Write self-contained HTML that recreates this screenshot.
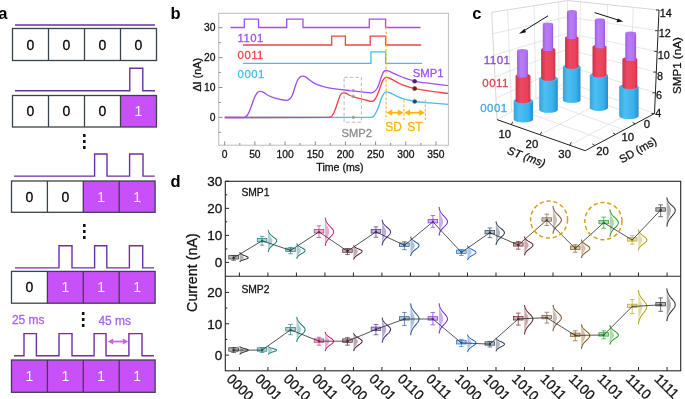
<!DOCTYPE html>
<html><head><meta charset="utf-8"><style>html,body{margin:0;padding:0;background:#fff;overflow:hidden}svg{display:block;will-change:transform}</style></head>
<body><svg width="685" height="399" viewBox="0 0 685 399">
<rect width="685" height="399" fill="#fff"/>
<text x="-1.8" y="18.6" font-size="16.5" font-weight="bold" font-family="Liberation Sans, sans-serif" fill="#000">a</text>
<line x1="15" y1="25" x2="155" y2="25" stroke="#6e2ea8" stroke-width="1.4"/>
<rect x="12.5" y="28.5" width="144" height="32" fill="none" stroke="#3a424a" stroke-width="1.3"/><line x1="48.5" y1="28.5" x2="48.5" y2="60.5" stroke="#3a424a" stroke-width="1.3"/><line x1="84.5" y1="28.5" x2="84.5" y2="60.5" stroke="#3a424a" stroke-width="1.3"/><line x1="120.5" y1="28.5" x2="120.5" y2="60.5" stroke="#3a424a" stroke-width="1.3"/><text x="30.5" y="49.5" font-size="14" font-family="Liberation Sans, sans-serif" fill="#000" text-anchor="middle" stroke="#000" stroke-width="0.28">0</text><text x="66.5" y="49.5" font-size="14" font-family="Liberation Sans, sans-serif" fill="#000" text-anchor="middle" stroke="#000" stroke-width="0.28">0</text><text x="102.5" y="49.5" font-size="14" font-family="Liberation Sans, sans-serif" fill="#000" text-anchor="middle" stroke="#000" stroke-width="0.28">0</text><text x="138.5" y="49.5" font-size="14" font-family="Liberation Sans, sans-serif" fill="#000" text-anchor="middle" stroke="#000" stroke-width="0.28">0</text>
<path d="M15,90.8 L129.8,90.8 L129.8,68.3 L142.8,68.3 L142.8,90.8 L155,90.8" fill="none" stroke="#6e2ea8" stroke-width="1.4"/>
<rect x="120.5" y="95.5" width="36" height="31.5" fill="#c850f8"/><rect x="12.5" y="95.5" width="144" height="31.5" fill="none" stroke="#3a424a" stroke-width="1.3"/><line x1="48.5" y1="95.5" x2="48.5" y2="127.0" stroke="#3a424a" stroke-width="1.3"/><line x1="84.5" y1="95.5" x2="84.5" y2="127.0" stroke="#3a424a" stroke-width="1.3"/><line x1="120.5" y1="95.5" x2="120.5" y2="127.0" stroke="#3a424a" stroke-width="1.3"/><text x="30.5" y="116.25" font-size="14" font-family="Liberation Sans, sans-serif" fill="#000" text-anchor="middle" stroke="#000" stroke-width="0.28">0</text><text x="66.5" y="116.25" font-size="14" font-family="Liberation Sans, sans-serif" fill="#000" text-anchor="middle" stroke="#000" stroke-width="0.28">0</text><text x="102.5" y="116.25" font-size="14" font-family="Liberation Sans, sans-serif" fill="#000" text-anchor="middle" stroke="#000" stroke-width="0.28">0</text><text x="138.5" y="116.25" font-size="14" font-family="Liberation Sans, sans-serif" fill="#fff" text-anchor="middle">1</text>
<rect x="83.0" y="134.0" width="2.6" height="3" fill="#111"/><rect x="83.0" y="140.0" width="2.6" height="3" fill="#111"/><rect x="83.0" y="146.0" width="2.6" height="3" fill="#111"/>
<path d="M14,176.1 L94.6,176.1 L94.6,154 L107,154 L107,176.1 L129.6,176.1 L129.6,154 L143,154 L143,176.1 L154.7,176.1" fill="none" stroke="#6e2ea8" stroke-width="1.4"/>
<rect x="83.3" y="181" width="35.9" height="31.3" fill="#c850f8"/><rect x="119.19999999999999" y="181" width="35.9" height="31.3" fill="#c850f8"/><rect x="11.5" y="181" width="143.6" height="31.3" fill="none" stroke="#3a424a" stroke-width="1.3"/><line x1="47.4" y1="181" x2="47.4" y2="212.3" stroke="#3a424a" stroke-width="1.3"/><line x1="83.3" y1="181" x2="83.3" y2="212.3" stroke="#3a424a" stroke-width="1.3"/><line x1="119.19999999999999" y1="181" x2="119.19999999999999" y2="212.3" stroke="#3a424a" stroke-width="1.3"/><text x="29.45" y="201.65" font-size="14" font-family="Liberation Sans, sans-serif" fill="#000" text-anchor="middle" stroke="#000" stroke-width="0.28">0</text><text x="65.35" y="201.65" font-size="14" font-family="Liberation Sans, sans-serif" fill="#000" text-anchor="middle" stroke="#000" stroke-width="0.28">0</text><text x="101.25" y="201.65" font-size="14" font-family="Liberation Sans, sans-serif" fill="#fff" text-anchor="middle">1</text><text x="137.14999999999998" y="201.65" font-size="14" font-family="Liberation Sans, sans-serif" fill="#fff" text-anchor="middle">1</text>
<rect x="83.0" y="224.0" width="2.6" height="3" fill="#111"/><rect x="83.0" y="230.0" width="2.6" height="3" fill="#111"/><rect x="83.0" y="236.0" width="2.6" height="3" fill="#111"/>
<path d="M15,267.9 L59,267.9 L59,245.8 L72,245.8 L72,267.9 L94.6,267.9 L94.6,245.8 L106.8,245.8 L106.8,267.9 L129.4,267.9 L129.4,245.8 L142.7,245.8 L142.7,267.9 L154,267.9" fill="none" stroke="#6e2ea8" stroke-width="1.4"/>
<rect x="47.4" y="271.4" width="35.9" height="31.8" fill="#c850f8"/><rect x="83.3" y="271.4" width="35.9" height="31.8" fill="#c850f8"/><rect x="119.19999999999999" y="271.4" width="35.9" height="31.8" fill="#c850f8"/><rect x="11.5" y="271.4" width="143.6" height="31.8" fill="none" stroke="#3a424a" stroke-width="1.3"/><line x1="47.4" y1="271.4" x2="47.4" y2="303.2" stroke="#3a424a" stroke-width="1.3"/><line x1="83.3" y1="271.4" x2="83.3" y2="303.2" stroke="#3a424a" stroke-width="1.3"/><line x1="119.19999999999999" y1="271.4" x2="119.19999999999999" y2="303.2" stroke="#3a424a" stroke-width="1.3"/><text x="29.45" y="292.29999999999995" font-size="14" font-family="Liberation Sans, sans-serif" fill="#000" text-anchor="middle" stroke="#000" stroke-width="0.28">0</text><text x="65.35" y="292.29999999999995" font-size="14" font-family="Liberation Sans, sans-serif" fill="#fff" text-anchor="middle">1</text><text x="101.25" y="292.29999999999995" font-size="14" font-family="Liberation Sans, sans-serif" fill="#fff" text-anchor="middle">1</text><text x="137.14999999999998" y="292.29999999999995" font-size="14" font-family="Liberation Sans, sans-serif" fill="#fff" text-anchor="middle">1</text>
<rect x="81.9" y="312.0" width="2.6" height="3" fill="#111"/><rect x="81.9" y="318.0" width="2.6" height="3" fill="#111"/><rect x="81.9" y="324.0" width="2.6" height="3" fill="#111"/>
<path d="M14,355.8 L24,355.8 L24,333.6 L36.4,333.6 L36.4,355.8 L59,355.8 L59,333.6 L72,333.6 L72,355.8 L94.1,355.8 L94.1,333.6 L106,333.6 L106,355.8 L128.9,355.8 L128.9,333.6 L142,333.6 L142,355.8 L154,355.8" fill="none" stroke="#6e2ea8" stroke-width="1.4"/>
<rect x="11.5" y="360" width="35.9" height="32.3" fill="#c850f8"/><rect x="47.4" y="360" width="35.9" height="32.3" fill="#c850f8"/><rect x="83.3" y="360" width="35.9" height="32.3" fill="#c850f8"/><rect x="119.19999999999999" y="360" width="35.9" height="32.3" fill="#c850f8"/><rect x="11.5" y="360" width="143.6" height="32.3" fill="none" stroke="#3a424a" stroke-width="1.3"/><line x1="47.4" y1="360" x2="47.4" y2="392.3" stroke="#3a424a" stroke-width="1.3"/><line x1="83.3" y1="360" x2="83.3" y2="392.3" stroke="#3a424a" stroke-width="1.3"/><line x1="119.19999999999999" y1="360" x2="119.19999999999999" y2="392.3" stroke="#3a424a" stroke-width="1.3"/><text x="29.45" y="381.15" font-size="14" font-family="Liberation Sans, sans-serif" fill="#fff" text-anchor="middle">1</text><text x="65.35" y="381.15" font-size="14" font-family="Liberation Sans, sans-serif" fill="#fff" text-anchor="middle">1</text><text x="101.25" y="381.15" font-size="14" font-family="Liberation Sans, sans-serif" fill="#fff" text-anchor="middle">1</text><text x="137.14999999999998" y="381.15" font-size="14" font-family="Liberation Sans, sans-serif" fill="#fff" text-anchor="middle">1</text>
<text x="11.9" y="324.4" font-size="12" font-family="Liberation Sans, sans-serif" fill="#a862ee" stroke="#a862ee" stroke-width="0.28">25 ms</text>
<text x="98.4" y="325.2" font-size="12" font-family="Liberation Sans, sans-serif" fill="#a862ee" stroke="#a862ee" stroke-width="0.28">45 ms</text>
<line x1="110" y1="341.5" x2="126" y2="341.5" stroke="#c462f4" stroke-width="1.7"/>
<path d="M107.8,341.5 L113.2,338.6 L113.2,344.4 Z M128.2,341.5 L122.8,338.6 L122.8,344.4 Z" fill="#c462f4"/>
<text x="170.5" y="18.7" font-size="16.5" font-weight="bold" font-family="Liberation Sans, sans-serif" fill="#000">b</text>
<rect x="218.7" y="13.3" width="229.7" height="131.89999999999998" fill="none" stroke="#bcbcbc" stroke-width="1"/>
<line x1="218.7" y1="117.4" x2="222.5" y2="117.4" stroke="#8e8e8e" stroke-width="1"/>
<text x="215.5" y="121.10000000000001" font-size="10.3" font-family="Liberation Sans, sans-serif" fill="#111" text-anchor="end" stroke="#111" stroke-width="0.28">0</text>
<line x1="218.7" y1="87.5" x2="222.5" y2="87.5" stroke="#8e8e8e" stroke-width="1"/>
<text x="215.5" y="91.2" font-size="10.3" font-family="Liberation Sans, sans-serif" fill="#111" text-anchor="end" stroke="#111" stroke-width="0.28">10</text>
<line x1="218.7" y1="57.6" x2="222.5" y2="57.6" stroke="#8e8e8e" stroke-width="1"/>
<text x="215.5" y="61.300000000000004" font-size="10.3" font-family="Liberation Sans, sans-serif" fill="#111" text-anchor="end" stroke="#111" stroke-width="0.28">20</text>
<line x1="218.7" y1="27.700000000000003" x2="222.5" y2="27.700000000000003" stroke="#8e8e8e" stroke-width="1"/>
<text x="215.5" y="31.400000000000002" font-size="10.3" font-family="Liberation Sans, sans-serif" fill="#111" text-anchor="end" stroke="#111" stroke-width="0.28">30</text>
<line x1="218.7" y1="132.35" x2="220.89999999999998" y2="132.35" stroke="#8e8e8e" stroke-width="1"/>
<line x1="218.7" y1="102.45" x2="220.89999999999998" y2="102.45" stroke="#8e8e8e" stroke-width="1"/>
<line x1="218.7" y1="72.55000000000001" x2="220.89999999999998" y2="72.55000000000001" stroke="#8e8e8e" stroke-width="1"/>
<line x1="218.7" y1="42.650000000000006" x2="220.89999999999998" y2="42.650000000000006" stroke="#8e8e8e" stroke-width="1"/>
<line x1="224.7" y1="145.2" x2="224.7" y2="141.39999999999998" stroke="#8e8e8e" stroke-width="1"/>
<text x="224.7" y="158.3" font-size="10.3" font-family="Liberation Sans, sans-serif" fill="#111" text-anchor="middle" stroke="#111" stroke-width="0.28">0</text>
<line x1="254.88" y1="145.2" x2="254.88" y2="141.39999999999998" stroke="#8e8e8e" stroke-width="1"/>
<text x="254.88" y="158.3" font-size="10.3" font-family="Liberation Sans, sans-serif" fill="#111" text-anchor="middle" stroke="#111" stroke-width="0.28">50</text>
<line x1="285.06" y1="145.2" x2="285.06" y2="141.39999999999998" stroke="#8e8e8e" stroke-width="1"/>
<text x="285.06" y="158.3" font-size="10.3" font-family="Liberation Sans, sans-serif" fill="#111" text-anchor="middle" stroke="#111" stroke-width="0.28">100</text>
<line x1="315.24" y1="145.2" x2="315.24" y2="141.39999999999998" stroke="#8e8e8e" stroke-width="1"/>
<text x="315.24" y="158.3" font-size="10.3" font-family="Liberation Sans, sans-serif" fill="#111" text-anchor="middle" stroke="#111" stroke-width="0.28">150</text>
<line x1="345.41999999999996" y1="145.2" x2="345.41999999999996" y2="141.39999999999998" stroke="#8e8e8e" stroke-width="1"/>
<text x="345.41999999999996" y="158.3" font-size="10.3" font-family="Liberation Sans, sans-serif" fill="#111" text-anchor="middle" stroke="#111" stroke-width="0.28">200</text>
<line x1="375.6" y1="145.2" x2="375.6" y2="141.39999999999998" stroke="#8e8e8e" stroke-width="1"/>
<text x="375.6" y="158.3" font-size="10.3" font-family="Liberation Sans, sans-serif" fill="#111" text-anchor="middle" stroke="#111" stroke-width="0.28">250</text>
<line x1="405.78" y1="145.2" x2="405.78" y2="141.39999999999998" stroke="#8e8e8e" stroke-width="1"/>
<text x="405.78" y="158.3" font-size="10.3" font-family="Liberation Sans, sans-serif" fill="#111" text-anchor="middle" stroke="#111" stroke-width="0.28">300</text>
<line x1="435.96000000000004" y1="145.2" x2="435.96000000000004" y2="141.39999999999998" stroke="#8e8e8e" stroke-width="1"/>
<text x="435.96000000000004" y="158.3" font-size="10.3" font-family="Liberation Sans, sans-serif" fill="#111" text-anchor="middle" stroke="#111" stroke-width="0.28">350</text>
<line x1="239.79" y1="145.2" x2="239.79" y2="143.0" stroke="#8e8e8e" stroke-width="1"/>
<line x1="269.96999999999997" y1="145.2" x2="269.96999999999997" y2="143.0" stroke="#8e8e8e" stroke-width="1"/>
<line x1="300.15" y1="145.2" x2="300.15" y2="143.0" stroke="#8e8e8e" stroke-width="1"/>
<line x1="330.33" y1="145.2" x2="330.33" y2="143.0" stroke="#8e8e8e" stroke-width="1"/>
<line x1="360.51" y1="145.2" x2="360.51" y2="143.0" stroke="#8e8e8e" stroke-width="1"/>
<line x1="390.69" y1="145.2" x2="390.69" y2="143.0" stroke="#8e8e8e" stroke-width="1"/>
<line x1="420.87" y1="145.2" x2="420.87" y2="143.0" stroke="#8e8e8e" stroke-width="1"/>
<text x="340" y="170.6" font-size="10.6" font-family="Liberation Sans, sans-serif" fill="#111" text-anchor="middle" stroke="#111" stroke-width="0.28">Time (ms)</text>
<text transform="translate(201.3,74.8) rotate(-90)" font-size="10.8" font-family="Liberation Sans, sans-serif" fill="#111" text-anchor="middle" stroke="#111" stroke-width="0.28">ΔI (nA)</text>
<path d="M230.5,27.5 L244.3,27.5 L244.3,19.2 L258.5,19.2 L258.5,27.5 L286.7,27.5 L286.7,19.2 L303,19.2 L303,27.5 L369.3,27.5 L369.3,19.2 L385.6,19.2 L385.6,27.5 L420.5,27.5" fill="none" stroke="#a24ef2" stroke-width="1.3"/>
<path d="M242.9,45.0 L331.7,45.0 L331.7,36.1 L345.4,36.1 L345.4,45.0 L370.2,45.0 L370.2,36.1 L385.6,36.1 L385.6,45.0 L421.2,45.0" fill="none" stroke="#ee4444" stroke-width="1.3"/>
<path d="M242.9,63.3 L370.9,63.3 L370.9,51.9 L385.6,51.9 L385.6,63.3 L422,63.3" fill="none" stroke="#46bcf0" stroke-width="1.3"/>
<text x="237.6" y="41.7" font-size="11.4" letter-spacing="0.45" font-family="Liberation Sans, sans-serif" fill="#a24ef2" stroke="#a24ef2" stroke-width="0.28">1101</text>
<text x="237.6" y="58.9" font-size="11.4" letter-spacing="0.45" font-family="Liberation Sans, sans-serif" fill="#ee4444" stroke="#ee4444" stroke-width="0.28">0011</text>
<text x="237.6" y="78.2" font-size="11.4" letter-spacing="0.45" font-family="Liberation Sans, sans-serif" fill="#46bcf0" stroke="#46bcf0" stroke-width="0.28">0001</text>
<path d="M224.80,117.50 C273.53,117.47 322.31,117.69 371.00,117.40 C371.87,117.39 372.91,117.18 373.50,116.60 C374.58,115.54 375.27,113.92 376.00,112.50 C377.04,110.49 377.99,108.42 378.80,106.30 C379.83,103.62 380.43,100.76 381.50,98.10 C382.17,96.43 382.93,94.68 384.00,93.30 C384.53,92.61 385.48,92.03 386.30,91.90 C387.14,91.76 388.13,92.21 389.00,92.50 C390.20,92.91 391.35,93.46 392.50,94.00 C394.82,95.09 397.04,96.42 399.40,97.40 C401.64,98.32 403.96,99.08 406.30,99.70 C409.16,100.45 412.07,101.10 415.00,101.50 C419.97,102.17 425.00,102.46 430.00,102.90 C436.00,103.43 442.00,103.90 448.00,104.40" fill="none" stroke="#46bcf0" stroke-width="1.35"/>
<path d="M224.80,117.50 C259.20,117.47 293.62,117.63 328.00,117.40 C329.02,117.39 330.22,117.35 331.00,116.80 C332.05,116.05 332.86,114.71 333.50,113.50 C334.56,111.48 335.31,109.26 336.10,107.10 C337.45,103.40 338.38,99.49 339.90,95.90 C340.28,94.99 341.06,94.22 341.80,93.60 C342.29,93.19 342.98,92.81 343.60,92.80 C344.54,92.78 345.59,93.13 346.50,93.50 C347.72,94.00 348.78,94.88 350.00,95.40 C351.95,96.24 353.96,96.99 356.00,97.60 C358.63,98.39 361.33,98.93 364.00,99.60 C366.23,100.16 368.46,101.07 370.70,101.30 C371.73,101.40 373.00,101.18 373.80,100.60 C374.83,99.85 375.57,98.49 376.20,97.30 C377.23,95.36 378.00,93.26 378.80,91.20 C379.77,88.69 380.50,86.09 381.50,83.60 C382.16,81.96 382.76,80.14 383.80,78.80 C384.36,78.08 385.42,77.54 386.30,77.40 C387.15,77.27 388.14,77.69 389.00,78.00 C390.20,78.43 391.37,79.00 392.50,79.60 C394.83,80.83 397.02,82.36 399.40,83.50 C401.62,84.56 403.96,85.43 406.30,86.20 C409.16,87.13 412.06,87.98 415.00,88.60 C419.96,89.65 424.98,90.47 430.00,91.20 C435.98,92.07 442.00,92.67 448.00,93.40" fill="none" stroke="#ee4444" stroke-width="1.35"/>
<path d="M224.80,117.50 C229.87,117.50 234.93,117.55 240.00,117.50 C241.50,117.48 243.14,117.75 244.50,117.30 C245.64,116.92 246.81,116.01 247.50,115.00 C248.81,113.08 249.61,110.71 250.50,108.50 C251.94,104.91 252.99,101.15 254.50,97.60 C255.23,95.89 256.02,94.03 257.20,92.70 C257.85,91.97 259.03,91.46 260.00,91.40 C261.13,91.33 262.44,91.77 263.50,92.30 C265.17,93.14 266.49,94.72 268.20,95.50 C271.29,96.92 274.60,98.04 277.90,98.90 C280.86,99.67 284.05,100.42 287.00,100.40 C288.09,100.39 289.25,99.59 290.00,98.80 C291.11,97.63 291.95,96.03 292.60,94.50 C293.62,92.10 294.15,89.48 295.00,87.00 C295.69,84.98 296.26,82.89 297.20,81.00 C297.92,79.56 298.84,78.01 300.00,77.00 C300.67,76.41 301.80,76.17 302.70,76.20 C303.80,76.24 305.01,76.65 306.00,77.20 C307.45,78.01 308.63,79.32 310.00,80.30 C311.63,81.46 313.22,82.72 315.00,83.60 C317.22,84.69 319.62,85.49 322.00,86.20 C324.65,86.99 327.36,87.68 330.10,88.10 C337.60,89.25 345.16,90.01 352.70,90.90 C357.80,91.51 362.90,92.08 368.00,92.60 C369.16,92.72 370.38,92.99 371.50,92.80 C372.55,92.62 373.66,92.15 374.50,91.50 C375.50,90.72 376.34,89.61 377.00,88.50 C377.84,87.11 378.42,85.54 379.00,84.00 C379.92,81.54 380.58,78.96 381.50,76.50 C382.08,74.96 382.58,73.28 383.50,72.00 C384.01,71.28 384.96,70.62 385.80,70.50 C386.80,70.35 387.97,70.85 389.00,71.20 C390.21,71.61 391.34,72.26 392.50,72.80 C394.80,73.86 397.06,75.02 399.40,76.00 C401.66,76.95 403.97,77.81 406.30,78.60 C409.17,79.58 412.03,80.70 415.00,81.30 C419.97,82.30 425.06,82.74 430.10,83.40 C436.06,84.18 442.03,84.87 448.00,85.60" fill="none" stroke="#a24ef2" stroke-width="1.35"/>
<rect x="344.1" y="77.3" width="17.3" height="44.9" fill="none" stroke="#b0b0b0" stroke-width="0.9" stroke-dasharray="3.4,2.3"/>
<circle cx="352.7" cy="90.6" r="2.2" fill="#ffffff" fill-opacity="0.55"/><circle cx="353.2" cy="90.6" r="1.8" fill="#303048" fill-opacity="0.35"/>
<circle cx="352.7" cy="96.4" r="2.2" fill="#ffffff" fill-opacity="0.55"/><circle cx="353.2" cy="96.4" r="1.8" fill="#303048" fill-opacity="0.35"/>
<circle cx="352.7" cy="117.4" r="2.2" fill="#ffffff" fill-opacity="0.55"/><circle cx="353.2" cy="117.4" r="1.8" fill="#303048" fill-opacity="0.35"/>
<circle cx="414.4" cy="81.3" r="2.3" fill="#a24ef2"/><circle cx="414.9" cy="81.3" r="2.0" fill="#1a1a2a" fill-opacity="0.72"/>
<circle cx="414.4" cy="88.6" r="2.3" fill="#ee4444"/><circle cx="414.9" cy="88.6" r="2.0" fill="#1a1a2a" fill-opacity="0.72"/>
<circle cx="414.4" cy="101.5" r="2.3" fill="#46bcf0"/><circle cx="414.9" cy="101.5" r="2.0" fill="#1a1a2a" fill-opacity="0.72"/>
<text x="341.5" y="137.2" font-size="11.2" font-family="Liberation Sans, sans-serif" fill="#8a8a8a" stroke="#8a8a8a" stroke-width="0.28">SMP2</text>
<text x="412.8" y="77.2" font-size="11.3" font-family="Liberation Sans, sans-serif" fill="#a24ef2" stroke="#a24ef2" stroke-width="0.28">SMP1</text>
<line x1="386.1" y1="27" x2="386.1" y2="120" stroke="#fdb50c" stroke-width="1.1" stroke-dasharray="2.6,1.8"/>
<line x1="403.9" y1="100" x2="403.9" y2="120" stroke="#fdb50c" stroke-width="1.1" stroke-dasharray="2.6,1.8"/>
<line x1="425.3" y1="100" x2="425.3" y2="120" stroke="#fdb50c" stroke-width="1.1" stroke-dasharray="2.6,1.8"/>
<line x1="390" y1="112.7" x2="400" y2="112.7" stroke="#fdb50c" stroke-width="1.7"/>
<line x1="408" y1="112.7" x2="421.3" y2="112.7" stroke="#fdb50c" stroke-width="1.7"/>
<path d="M386.4,112.7 L392.2,109.6 L392.2,115.8Z M403.6,112.7 L397.8,109.6 L397.8,115.8Z M404.2,112.7 L410,109.6 L410,115.8Z M425,112.7 L419.2,109.6 L419.2,115.8Z" fill="#fdb50c"/>
<text x="385.2" y="130.9" font-size="12" font-family="Liberation Sans, sans-serif" fill="#fdb50c" stroke="#fdb50c" stroke-width="0.28">SD</text>
<text x="407.2" y="130.9" font-size="12" font-family="Liberation Sans, sans-serif" fill="#fdb50c" stroke="#fdb50c" stroke-width="0.28">ST</text>
<text x="472.3" y="18.6" font-size="16.5" font-weight="bold" font-family="Liberation Sans, sans-serif" fill="#000">c</text>
<line x1="497.00" y1="119.60" x2="491.70" y2="12.30" stroke="#cccccc" stroke-width="0.8"/>
<line x1="491.70" y1="12.30" x2="567.60" y2="0.50" stroke="#cccccc" stroke-width="0.8"/>
<line x1="567.60" y1="0.50" x2="659.00" y2="10.00" stroke="#cccccc" stroke-width="0.8"/>
<line x1="567.00" y1="82.00" x2="567.60" y2="0.50" stroke="#e0e0e0" stroke-width="0.8"/>
<line x1="497.00" y1="119.60" x2="567.00" y2="82.00" stroke="#e0e0e0" stroke-width="0.8"/>
<line x1="567.00" y1="82.00" x2="654.50" y2="113.50" stroke="#e0e0e0" stroke-width="0.8"/>
<line x1="511.70" y1="111.70" x2="507.64" y2="9.82" stroke="#e0e0e0" stroke-width="0.8"/>
<line x1="535.99" y1="98.66" x2="533.98" y2="5.73" stroke="#e0e0e0" stroke-width="0.8"/>
<line x1="558.88" y1="86.36" x2="558.80" y2="1.87" stroke="#e0e0e0" stroke-width="0.8"/>
<line x1="495.94" y1="98.14" x2="567.12" y2="65.70" stroke="#e0e0e0" stroke-width="0.8"/>
<line x1="567.12" y1="65.70" x2="655.40" y2="92.80" stroke="#e0e0e0" stroke-width="0.8"/>
<line x1="494.88" y1="76.68" x2="567.24" y2="49.40" stroke="#e0e0e0" stroke-width="0.8"/>
<line x1="567.24" y1="49.40" x2="656.30" y2="72.10" stroke="#e0e0e0" stroke-width="0.8"/>
<line x1="493.82" y1="55.22" x2="567.36" y2="33.10" stroke="#e0e0e0" stroke-width="0.8"/>
<line x1="567.36" y1="33.10" x2="657.20" y2="51.40" stroke="#e0e0e0" stroke-width="0.8"/>
<line x1="492.76" y1="33.76" x2="567.48" y2="16.80" stroke="#e0e0e0" stroke-width="0.8"/>
<line x1="567.48" y1="16.80" x2="658.10" y2="30.70" stroke="#e0e0e0" stroke-width="0.8"/>
<line x1="579.25" y1="86.41" x2="580.40" y2="1.83" stroke="#e0e0e0" stroke-width="0.8"/>
<line x1="605.33" y1="95.80" x2="607.63" y2="4.66" stroke="#e0e0e0" stroke-width="0.8"/>
<line x1="629.83" y1="104.62" x2="633.23" y2="7.32" stroke="#e0e0e0" stroke-width="0.8"/>
<line x1="511.29" y1="124.64" x2="581.17" y2="87.10" stroke="#e0e0e0" stroke-width="0.8"/>
<line x1="540.13" y1="134.81" x2="609.79" y2="97.40" stroke="#e0e0e0" stroke-width="0.8"/>
<line x1="569.76" y1="145.26" x2="639.19" y2="107.99" stroke="#e0e0e0" stroke-width="0.8"/>
<line x1="644.80" y1="118.71" x2="557.20" y2="87.26" stroke="#e0e0e0" stroke-width="0.8"/>
<line x1="624.15" y1="129.79" x2="536.34" y2="98.47" stroke="#e0e0e0" stroke-width="0.8"/>
<line x1="604.74" y1="140.21" x2="516.74" y2="109.00" stroke="#e0e0e0" stroke-width="0.8"/>
<line x1="497.00" y1="119.60" x2="585.20" y2="150.70" stroke="#222" stroke-width="1.0"/>
<line x1="585.20" y1="150.70" x2="654.50" y2="113.50" stroke="#222" stroke-width="1.0"/>
<line x1="654.50" y1="113.50" x2="659.00" y2="10.00" stroke="#222" stroke-width="1.0"/>
<line x1="511.29" y1="124.64" x2="512.79" y2="121.64" stroke="#222" stroke-width="0.9"/>
<line x1="540.13" y1="134.81" x2="541.63" y2="131.81" stroke="#222" stroke-width="0.9"/>
<line x1="569.76" y1="145.26" x2="571.26" y2="142.26" stroke="#222" stroke-width="0.9"/>
<line x1="635.10" y1="123.92" x2="632.60" y2="122.42" stroke="#222" stroke-width="0.9"/>
<line x1="615.55" y1="134.41" x2="613.05" y2="132.91" stroke="#222" stroke-width="0.9"/>
<line x1="594.90" y1="145.49" x2="592.40" y2="143.99" stroke="#222" stroke-width="0.9"/>
<line x1="654.50" y1="113.50" x2="651.50" y2="113.50" stroke="#222" stroke-width="0.9"/>
<text x="655.29" y="117.30" font-size="10.8" font-family="Liberation Sans, sans-serif" fill="#111" stroke="#111" stroke-width="0.28">4</text>
<line x1="655.40" y1="92.80" x2="652.40" y2="92.80" stroke="#222" stroke-width="0.9"/>
<text x="656.07" y="99.30" font-size="10.8" font-family="Liberation Sans, sans-serif" fill="#111" stroke="#111" stroke-width="0.28">6</text>
<line x1="656.30" y1="72.10" x2="653.30" y2="72.10" stroke="#222" stroke-width="0.9"/>
<text x="656.93" y="79.50" font-size="10.8" font-family="Liberation Sans, sans-serif" fill="#111" stroke="#111" stroke-width="0.28">8</text>
<line x1="657.20" y1="51.40" x2="654.20" y2="51.40" stroke="#222" stroke-width="0.9"/>
<text x="657.81" y="59.30" font-size="10.8" font-family="Liberation Sans, sans-serif" fill="#111" stroke="#111" stroke-width="0.28">10</text>
<line x1="658.10" y1="30.70" x2="655.10" y2="30.70" stroke="#222" stroke-width="0.9"/>
<text x="658.80" y="36.50" font-size="10.8" font-family="Liberation Sans, sans-serif" fill="#111" stroke="#111" stroke-width="0.28">12</text>
<line x1="659.00" y1="10.00" x2="656.00" y2="10.00" stroke="#222" stroke-width="0.9"/>
<text x="659.65" y="17.00" font-size="10.8" font-family="Liberation Sans, sans-serif" fill="#111" stroke="#111" stroke-width="0.28">14</text>
<text transform="translate(680.8,65.6) rotate(-90)" font-size="11.6" font-family="Liberation Sans, sans-serif" fill="#111" text-anchor="middle" stroke="#111" stroke-width="0.28">SMP1 (nA)</text>
<text x="498.5" y="137.8" font-size="11.4" font-family="Liberation Sans, sans-serif" fill="#111" stroke="#111" stroke-width="0.28">10</text>
<text x="525.6" y="147.5" font-size="11.4" font-family="Liberation Sans, sans-serif" fill="#111" stroke="#111" stroke-width="0.28">20</text>
<text x="558.3" y="157.7" font-size="11.4" font-family="Liberation Sans, sans-serif" fill="#111" stroke="#111" stroke-width="0.28">30</text>
<text x="643.7" y="128.4" font-size="11.4" font-family="Liberation Sans, sans-serif" fill="#111" stroke="#111" stroke-width="0.28">0</text>
<text x="621.4" y="141.4" font-size="11.4" font-family="Liberation Sans, sans-serif" fill="#111" stroke="#111" stroke-width="0.28">10</text>
<text x="596.2" y="154.9" font-size="11.4" font-family="Liberation Sans, sans-serif" fill="#111" stroke="#111" stroke-width="0.28">20</text>
<text transform="translate(506.5,153.6) rotate(20)" font-size="11.2" font-family="Liberation Sans, sans-serif" font-style="italic" fill="#111" stroke="#111" stroke-width="0.28">ST (ms)</text>
<text transform="translate(622,163.6) rotate(-30)" font-size="11.2" font-family="Liberation Sans, sans-serif" fill="#111" stroke="#111" stroke-width="0.28">SD (ms)</text>
<text x="483.8" y="63.8" font-size="11.5" letter-spacing="0.45" font-family="Liberation Sans, sans-serif" fill="#8a48c8" stroke="#8a48c8" stroke-width="0.28">1101</text>
<text x="482.3" y="86.9" font-size="11.5" letter-spacing="0.45" font-family="Liberation Sans, sans-serif" fill="#e04050" stroke="#e04050" stroke-width="0.28">0011</text>
<text x="480.2" y="111.8" font-size="11.5" letter-spacing="0.45" font-family="Liberation Sans, sans-serif" fill="#3aa8e0" stroke="#3aa8e0" stroke-width="0.28">0001</text>
<line x1="548" y1="15.8" x2="522" y2="32" stroke="#111" stroke-width="1"/>
<path d="M519,33.8 L524.5,28.8 L526,32.2 Z" fill="#111"/>
<line x1="594.6" y1="12.6" x2="620" y2="20.6" stroke="#111" stroke-width="1"/>
<path d="M623.2,21.6 L616.5,22.2 L617.8,18.4 Z" fill="#111"/>
<defs>
<linearGradient id="gB" x1="0" x2="1" y1="0" y2="0"><stop offset="0" stop-color="#3aa0dc"/><stop offset="0.3" stop-color="#4cc0f4"/><stop offset="0.75" stop-color="#3ab0ea"/><stop offset="1" stop-color="#2a8cc8"/></linearGradient>
<linearGradient id="gR" x1="0" x2="1" y1="0" y2="0"><stop offset="0" stop-color="#cc344c"/><stop offset="0.35" stop-color="#ee4862"/><stop offset="0.8" stop-color="#e8425a"/><stop offset="1" stop-color="#c8344a"/></linearGradient>
<linearGradient id="gP" x1="0" x2="1" y1="0" y2="0"><stop offset="0" stop-color="#a060e0"/><stop offset="0.35" stop-color="#ba7cf6"/><stop offset="0.8" stop-color="#b072f2"/><stop offset="1" stop-color="#9656d6"/></linearGradient>
</defs>
<path d="M513.6999999999999,101.0 L513.6999999999999,119.4 A9.7,3.1039999999999996 0 0 0 533.1,119.4 L533.1,101.0 Z" fill="url(#gB)"/><ellipse cx="523.4" cy="101.0" rx="9.7" ry="3.1039999999999996" fill="#46b8ee"/>
<path d="M515.5814544303797,76.0 L515.5814544303797,101.0 A7.4205,2.3003549999999997 0 0 0 530.4224544303796,101.0 L530.4224544303796,76.0 Z" fill="url(#gR)"/><ellipse cx="523.0019544303797" cy="76.0" rx="7.4205" ry="2.3003549999999997" fill="#dc3a54"/>
<path d="M517.0291316455696,50.8 L517.0291316455696,76.0 A5.432,1.8468800000000003 0 0 0 527.8931316455696,76.0 L527.8931316455696,50.8 Z" fill="url(#gP)"/><ellipse cx="522.4611316455696" cy="50.8" rx="5.432" ry="1.8468800000000003" fill="#b474f2"/>
<path d="M539.2,78.6 L539.2,109.8 A9.3,2.9760000000000004 0 0 0 557.8,109.8 L557.8,78.6 Z" fill="url(#gB)"/><ellipse cx="548.5" cy="78.6" rx="9.3" ry="2.9760000000000004" fill="#46b8ee"/>
<path d="M541.1070696202531,49.6 L541.1070696202531,78.6 A7.1145000000000005,2.205495 0 0 0 555.3360696202532,78.6 L555.3360696202532,49.6 Z" fill="url(#gR)"/><ellipse cx="548.2215696202531" cy="49.6" rx="7.1145000000000005" ry="2.205495" fill="#dc3a54"/>
<path d="M542.7547721518988,24.2 L542.7547721518988,49.6 A5.208000000000001,1.7707200000000005 0 0 0 553.1707721518987,49.6 L553.1707721518987,24.2 Z" fill="url(#gP)"/><ellipse cx="547.9627721518988" cy="24.2" rx="5.208000000000001" ry="1.7707200000000005" fill="#b474f2"/>
<path d="M562.9000000000001,66.8 L562.9000000000001,100.3 A8.8,2.8160000000000003 0 0 0 580.5,100.3 L580.5,66.8 Z" fill="url(#gB)"/><ellipse cx="571.7" cy="66.8" rx="8.8" ry="2.8160000000000003" fill="#46b8ee"/>
<path d="M565.0625632911393,37.8 L565.0625632911393,66.8 A6.732000000000001,2.08692 0 0 0 578.5265632911393,66.8 L578.5265632911393,37.8 Z" fill="url(#gR)"/><ellipse cx="571.7945632911393" cy="37.8" rx="6.732000000000001" ry="2.08692" fill="#dc3a54"/>
<path d="M566.948424050633,11.8 L566.948424050633,37.8 A4.928000000000001,1.6755200000000003 0 0 0 576.804424050633,37.8 L576.804424050633,11.8 Z" fill="url(#gP)"/><ellipse cx="571.876424050633" cy="11.8" rx="4.928000000000001" ry="1.6755200000000003" fill="#b474f2"/>
<path d="M589.8,75.2 L589.8,108.0 A9.1,2.912 0 0 0 608.0,108.0 L608.0,75.2 Z" fill="url(#gB)"/><ellipse cx="598.9" cy="75.2" rx="9.1" ry="2.912" fill="#46b8ee"/>
<path d="M592.4828139240506,46.8 L592.4828139240506,75.2 A6.9615,2.158065 0 0 0 606.4058139240506,75.2 L606.4058139240506,46.8 Z" fill="url(#gR)"/><ellipse cx="599.4443139240506" cy="46.8" rx="6.9615" ry="2.158065" fill="#dc3a54"/>
<path d="M594.8196101265822,19.9 L594.8196101265822,46.8 A5.096,1.7326400000000002 0 0 0 605.0116101265822,46.8 L605.0116101265822,19.9 Z" fill="url(#gP)"/><ellipse cx="599.9156101265822" cy="19.9" rx="5.096" ry="1.7326400000000002" fill="#b474f2"/>
<path d="M619.1999999999999,86.9 L619.1999999999999,116.0 A9.7,3.1039999999999996 0 0 0 638.6,116.0 L638.6,86.9 Z" fill="url(#gB)"/><ellipse cx="628.9" cy="86.9" rx="9.7" ry="3.1039999999999996" fill="#46b8ee"/>
<path d="M622.4044379746836,59.2 L622.4044379746836,86.9 A7.4205,2.3003549999999997 0 0 0 637.2454379746835,86.9 L637.2454379746835,59.2 Z" fill="url(#gR)"/><ellipse cx="629.8249379746835" cy="59.2" rx="7.4205" ry="2.3003549999999997" fill="#dc3a54"/>
<path d="M625.2733772151898,33.4 L625.2733772151898,59.2 A5.432,1.8468800000000003 0 0 0 636.1373772151899,59.2 L636.1373772151899,33.4 Z" fill="url(#gP)"/><ellipse cx="630.7053772151899" cy="33.4" rx="5.432" ry="1.8468800000000003" fill="#b474f2"/>
<text x="170.5" y="187" font-size="16.5" font-weight="bold" font-family="Liberation Sans, sans-serif" fill="#000">d</text>
<rect x="225.3" y="181.3" width="455.40000000000003" height="189.5" fill="none" stroke="#262626" stroke-width="1.1"/>
<line x1="225.3" y1="276.3" x2="680.7" y2="276.3" stroke="#262626" stroke-width="1.1"/>
<line x1="225.3" y1="262.4" x2="229.10000000000002" y2="262.4" stroke="#262626" stroke-width="1"/>
<text x="222.2" y="267.2" font-size="13.5" font-family="Liberation Sans, sans-serif" fill="#111" text-anchor="end" stroke="#111" stroke-width="0.28">0</text>
<line x1="225.3" y1="235.36999999999998" x2="229.10000000000002" y2="235.36999999999998" stroke="#262626" stroke-width="1"/>
<text x="222.2" y="240.17" font-size="13.5" font-family="Liberation Sans, sans-serif" fill="#111" text-anchor="end" stroke="#111" stroke-width="0.28">10</text>
<line x1="225.3" y1="208.33999999999997" x2="229.10000000000002" y2="208.33999999999997" stroke="#262626" stroke-width="1"/>
<text x="222.2" y="213.14" font-size="13.5" font-family="Liberation Sans, sans-serif" fill="#111" text-anchor="end" stroke="#111" stroke-width="0.28">20</text>
<line x1="225.3" y1="181.31" x2="229.10000000000002" y2="181.31" stroke="#262626" stroke-width="1"/>
<text x="222.2" y="186.11" font-size="13.5" font-family="Liberation Sans, sans-serif" fill="#111" text-anchor="end" stroke="#111" stroke-width="0.28">30</text>
<line x1="225.3" y1="248.885" x2="227.3" y2="248.885" stroke="#262626" stroke-width="1"/>
<line x1="225.3" y1="221.855" x2="227.3" y2="221.855" stroke="#262626" stroke-width="1"/>
<line x1="225.3" y1="194.825" x2="227.3" y2="194.825" stroke="#262626" stroke-width="1"/>
<line x1="225.3" y1="355.1" x2="229.10000000000002" y2="355.1" stroke="#262626" stroke-width="1"/>
<text x="222.2" y="359.90000000000003" font-size="13.5" font-family="Liberation Sans, sans-serif" fill="#111" text-anchor="end" stroke="#111" stroke-width="0.28">0</text>
<line x1="225.3" y1="323.75" x2="229.10000000000002" y2="323.75" stroke="#262626" stroke-width="1"/>
<text x="222.2" y="328.55" font-size="13.5" font-family="Liberation Sans, sans-serif" fill="#111" text-anchor="end" stroke="#111" stroke-width="0.28">10</text>
<line x1="225.3" y1="292.40000000000003" x2="229.10000000000002" y2="292.40000000000003" stroke="#262626" stroke-width="1"/>
<text x="222.2" y="297.20000000000005" font-size="13.5" font-family="Liberation Sans, sans-serif" fill="#111" text-anchor="end" stroke="#111" stroke-width="0.28">20</text>
<line x1="225.3" y1="339.425" x2="227.3" y2="339.425" stroke="#262626" stroke-width="1"/>
<line x1="225.3" y1="308.07500000000005" x2="227.3" y2="308.07500000000005" stroke="#262626" stroke-width="1"/>
<text transform="translate(197.3,272.6) rotate(-90)" font-size="14.3" font-family="Liberation Sans, sans-serif" fill="#111" text-anchor="middle" stroke="#111" stroke-width="0.28">Current (nA)</text>
<text x="241.4" y="196.4" font-size="10.3" font-family="Liberation Sans, sans-serif" fill="#111" stroke="#111" stroke-width="0.28">SMP1</text>
<text x="241.4" y="293" font-size="10.3" font-family="Liberation Sans, sans-serif" fill="#111" stroke="#111" stroke-width="0.28">SMP2</text>
<line x1="239.40" y1="276.3" x2="239.40" y2="272.5" stroke="#262626" stroke-width="1"/>
<line x1="239.40" y1="370.8" x2="239.40" y2="367.0" stroke="#262626" stroke-width="1"/>
<text transform="translate(225.80,379.8) rotate(45)" font-size="14" font-family="Liberation Sans, sans-serif" fill="#111" stroke="#111" stroke-width="0.28">0000</text>
<line x1="267.91" y1="276.3" x2="267.91" y2="272.5" stroke="#262626" stroke-width="1"/>
<line x1="267.91" y1="370.8" x2="267.91" y2="367.0" stroke="#262626" stroke-width="1"/>
<text transform="translate(254.31,379.8) rotate(45)" font-size="14" font-family="Liberation Sans, sans-serif" fill="#111" stroke="#111" stroke-width="0.28">0001</text>
<line x1="296.42" y1="276.3" x2="296.42" y2="272.5" stroke="#262626" stroke-width="1"/>
<line x1="296.42" y1="370.8" x2="296.42" y2="367.0" stroke="#262626" stroke-width="1"/>
<text transform="translate(282.82,379.8) rotate(45)" font-size="14" font-family="Liberation Sans, sans-serif" fill="#111" stroke="#111" stroke-width="0.28">0010</text>
<line x1="324.93" y1="276.3" x2="324.93" y2="272.5" stroke="#262626" stroke-width="1"/>
<line x1="324.93" y1="370.8" x2="324.93" y2="367.0" stroke="#262626" stroke-width="1"/>
<text transform="translate(311.33,379.8) rotate(45)" font-size="14" font-family="Liberation Sans, sans-serif" fill="#111" stroke="#111" stroke-width="0.28">0011</text>
<line x1="353.44" y1="276.3" x2="353.44" y2="272.5" stroke="#262626" stroke-width="1"/>
<line x1="353.44" y1="370.8" x2="353.44" y2="367.0" stroke="#262626" stroke-width="1"/>
<text transform="translate(339.84,379.8) rotate(45)" font-size="14" font-family="Liberation Sans, sans-serif" fill="#111" stroke="#111" stroke-width="0.28">0100</text>
<line x1="381.95" y1="276.3" x2="381.95" y2="272.5" stroke="#262626" stroke-width="1"/>
<line x1="381.95" y1="370.8" x2="381.95" y2="367.0" stroke="#262626" stroke-width="1"/>
<text transform="translate(368.35,379.8) rotate(45)" font-size="14" font-family="Liberation Sans, sans-serif" fill="#111" stroke="#111" stroke-width="0.28">0101</text>
<line x1="410.46" y1="276.3" x2="410.46" y2="272.5" stroke="#262626" stroke-width="1"/>
<line x1="410.46" y1="370.8" x2="410.46" y2="367.0" stroke="#262626" stroke-width="1"/>
<text transform="translate(396.86,379.8) rotate(45)" font-size="14" font-family="Liberation Sans, sans-serif" fill="#111" stroke="#111" stroke-width="0.28">0110</text>
<line x1="438.97" y1="276.3" x2="438.97" y2="272.5" stroke="#262626" stroke-width="1"/>
<line x1="438.97" y1="370.8" x2="438.97" y2="367.0" stroke="#262626" stroke-width="1"/>
<text transform="translate(425.37,379.8) rotate(45)" font-size="14" font-family="Liberation Sans, sans-serif" fill="#111" stroke="#111" stroke-width="0.28">0111</text>
<line x1="467.48" y1="276.3" x2="467.48" y2="272.5" stroke="#262626" stroke-width="1"/>
<line x1="467.48" y1="370.8" x2="467.48" y2="367.0" stroke="#262626" stroke-width="1"/>
<text transform="translate(453.88,379.8) rotate(45)" font-size="14" font-family="Liberation Sans, sans-serif" fill="#111" stroke="#111" stroke-width="0.28">1000</text>
<line x1="495.99" y1="276.3" x2="495.99" y2="272.5" stroke="#262626" stroke-width="1"/>
<line x1="495.99" y1="370.8" x2="495.99" y2="367.0" stroke="#262626" stroke-width="1"/>
<text transform="translate(482.39,379.8) rotate(45)" font-size="14" font-family="Liberation Sans, sans-serif" fill="#111" stroke="#111" stroke-width="0.28">1001</text>
<line x1="524.50" y1="276.3" x2="524.50" y2="272.5" stroke="#262626" stroke-width="1"/>
<line x1="524.50" y1="370.8" x2="524.50" y2="367.0" stroke="#262626" stroke-width="1"/>
<text transform="translate(510.90,379.8) rotate(45)" font-size="14" font-family="Liberation Sans, sans-serif" fill="#111" stroke="#111" stroke-width="0.28">1010</text>
<line x1="553.01" y1="276.3" x2="553.01" y2="272.5" stroke="#262626" stroke-width="1"/>
<line x1="553.01" y1="370.8" x2="553.01" y2="367.0" stroke="#262626" stroke-width="1"/>
<text transform="translate(539.41,379.8) rotate(45)" font-size="14" font-family="Liberation Sans, sans-serif" fill="#111" stroke="#111" stroke-width="0.28">1011</text>
<line x1="581.52" y1="276.3" x2="581.52" y2="272.5" stroke="#262626" stroke-width="1"/>
<line x1="581.52" y1="370.8" x2="581.52" y2="367.0" stroke="#262626" stroke-width="1"/>
<text transform="translate(567.92,379.8) rotate(45)" font-size="14" font-family="Liberation Sans, sans-serif" fill="#111" stroke="#111" stroke-width="0.28">1100</text>
<line x1="610.03" y1="276.3" x2="610.03" y2="272.5" stroke="#262626" stroke-width="1"/>
<line x1="610.03" y1="370.8" x2="610.03" y2="367.0" stroke="#262626" stroke-width="1"/>
<text transform="translate(596.43,379.8) rotate(45)" font-size="14" font-family="Liberation Sans, sans-serif" fill="#111" stroke="#111" stroke-width="0.28">1101</text>
<line x1="638.54" y1="276.3" x2="638.54" y2="272.5" stroke="#262626" stroke-width="1"/>
<line x1="638.54" y1="370.8" x2="638.54" y2="367.0" stroke="#262626" stroke-width="1"/>
<text transform="translate(624.94,379.8) rotate(45)" font-size="14" font-family="Liberation Sans, sans-serif" fill="#111" stroke="#111" stroke-width="0.28">1110</text>
<line x1="667.05" y1="276.3" x2="667.05" y2="272.5" stroke="#262626" stroke-width="1"/>
<line x1="667.05" y1="370.8" x2="667.05" y2="367.0" stroke="#262626" stroke-width="1"/>
<text transform="translate(653.45,379.8) rotate(45)" font-size="14" font-family="Liberation Sans, sans-serif" fill="#111" stroke="#111" stroke-width="0.28">1111</text>
<path d="M233.60,255.42 V260.30 M231.30,255.42 H235.90 M231.30,260.30 H235.90" stroke="#333333" stroke-opacity="0.8" stroke-width="0.85" fill="none"/><rect x="228.80" y="255.60" width="9.6" height="3.4" fill="#333333" fill-opacity="0.35" stroke="#333333" stroke-opacity="0.95" stroke-width="0.75"/><rect x="232.50" y="256.80" width="2.2" height="2.2" fill="#333333"/><path d="M239.60,252.00 L239.71,252.00 L239.75,252.23 L239.79,252.45 L239.85,252.68 L239.92,252.91 L240.00,253.14 L240.10,253.36 L240.22,253.59 L240.35,253.82 L240.51,254.05 L240.68,254.27 L240.88,254.50 L241.10,254.73 L241.33,254.95 L241.58,255.18 L241.85,255.41 L242.11,255.64 L242.39,255.86 L242.65,256.09 L242.91,256.32 L243.15,256.55 L243.36,256.77 L243.55,257.00 L243.70,257.23 L243.81,257.45 L243.88,257.68 L243.90,257.91 L243.85,258.14 L243.70,258.36 L243.48,258.59 L243.18,258.82 L242.84,259.05 L242.46,259.27 L242.07,259.50 L241.68,259.73 L241.32,259.95 L240.99,260.18 L240.70,260.41 L240.45,260.64 L240.24,260.86 L240.07,261.09 L239.94,261.32 L239.84,261.55 L239.77,261.77 L239.71,262.00 Z" fill="#333333" fill-opacity="0.38"/><path d="M239.82,252.00 L239.90,252.23 L239.99,252.45 L240.10,252.68 L240.23,252.91 L240.40,253.14 L240.60,253.36 L240.83,253.59 L241.10,253.82 L241.41,254.05 L241.77,254.27 L242.16,254.50 L242.60,254.73 L243.07,254.95 L243.57,255.18 L244.09,255.41 L244.63,255.64 L245.17,255.86 L245.70,256.09 L246.22,256.32 L246.70,256.55 L247.13,256.77 L247.50,257.00 L247.80,257.23 L248.02,257.45 L248.16,257.68 L248.20,257.91 L248.10,258.14 L247.81,258.36 L247.35,258.59 L246.76,258.82 L246.07,259.05 L245.32,259.27 L244.54,259.50 L243.77,259.73 L243.04,259.95 L242.38,260.18 L241.80,260.41 L241.30,260.64 L240.88,260.86 L240.55,261.09 L240.28,261.32 L240.08,261.55 L239.93,261.77 L239.82,262.00" stroke="#333333" stroke-width="1.05" fill="none"/>
<path d="M262.07,236.35 V245.20 M259.77,236.35 H264.37 M259.77,245.20 H264.37" stroke="#1f8080" stroke-opacity="0.8" stroke-width="0.85" fill="none"/><rect x="257.27" y="238.50" width="9.6" height="3.4" fill="#1f8080" fill-opacity="0.35" stroke="#1f8080" stroke-opacity="0.95" stroke-width="0.75"/><rect x="260.97" y="239.70" width="2.2" height="2.2" fill="#1f8080"/><path d="M268.07,230.20 L268.18,230.20 L268.23,230.69 L268.28,231.18 L268.36,231.67 L268.45,232.16 L268.57,232.65 L268.71,233.15 L268.88,233.64 L269.08,234.13 L269.31,234.62 L269.57,235.11 L269.86,235.60 L270.16,236.09 L270.48,236.58 L270.81,237.07 L271.13,237.56 L271.44,238.05 L271.72,238.55 L271.96,239.04 L272.15,239.53 L272.29,240.02 L272.36,240.51 L272.36,241.00 L272.31,241.49 L272.19,241.98 L272.02,242.47 L271.80,242.96 L271.55,243.45 L271.26,243.95 L270.96,244.44 L270.64,244.93 L270.33,245.42 L270.03,245.91 L269.74,246.40 L269.48,246.89 L269.24,247.38 L269.02,247.87 L268.84,248.36 L268.68,248.85 L268.55,249.35 L268.44,249.84 L268.35,250.33 L268.28,250.82 L268.22,251.31 L268.18,251.80 Z" fill="#1f8080" fill-opacity="0.38"/><path d="M268.29,230.20 L268.38,230.69 L268.50,231.18 L268.65,231.67 L268.84,232.16 L269.07,232.65 L269.36,233.15 L269.70,233.64 L270.10,234.13 L270.56,234.62 L271.08,235.11 L271.65,235.60 L272.26,236.09 L272.90,236.58 L273.55,237.07 L274.19,237.56 L274.80,238.05 L275.36,238.55 L275.84,239.04 L276.23,239.53 L276.50,240.02 L276.65,240.51 L276.66,241.00 L276.55,241.49 L276.32,241.98 L275.97,242.47 L275.54,242.96 L275.03,243.45 L274.45,243.95 L273.84,244.44 L273.22,244.93 L272.59,245.42 L271.99,245.91 L271.41,246.40 L270.88,246.89 L270.40,247.38 L269.98,247.87 L269.60,248.36 L269.29,248.85 L269.02,249.35 L268.80,249.84 L268.63,250.33 L268.49,250.82 L268.38,251.31 L268.29,251.80" stroke="#1f8080" stroke-width="1.05" fill="none"/>
<path d="M290.54,247.42 V253.76 M288.24,247.42 H292.84 M288.24,253.76 H292.84" stroke="#1f7a7a" stroke-opacity="0.8" stroke-width="0.85" fill="none"/><rect x="285.74" y="248.10" width="9.6" height="3.4" fill="#1f7a7a" fill-opacity="0.35" stroke="#1f7a7a" stroke-opacity="0.95" stroke-width="0.75"/><rect x="289.44" y="249.30" width="2.2" height="2.2" fill="#1f7a7a"/><path d="M296.54,243.30 L296.65,243.30 L296.70,243.65 L296.76,244.00 L296.85,244.36 L296.95,244.71 L297.09,245.06 L297.25,245.41 L297.45,245.77 L297.68,246.12 L297.95,246.47 L298.24,246.82 L298.57,247.18 L298.91,247.53 L299.26,247.88 L299.60,248.23 L299.93,248.58 L300.22,248.94 L300.47,249.29 L300.66,249.64 L300.79,249.99 L300.84,250.35 L300.82,250.70 L300.75,251.05 L300.62,251.40 L300.45,251.75 L300.24,252.11 L299.99,252.46 L299.72,252.81 L299.44,253.16 L299.14,253.52 L298.85,253.87 L298.56,254.22 L298.29,254.57 L298.03,254.93 L297.80,255.28 L297.59,255.63 L297.40,255.98 L297.24,256.33 L297.10,256.69 L296.98,257.04 L296.88,257.39 L296.81,257.74 L296.74,258.10 L296.69,258.45 L296.65,258.80 Z" fill="#1f7a7a" fill-opacity="0.38"/><path d="M296.76,243.30 L296.86,243.65 L296.99,244.00 L297.15,244.36 L297.37,244.71 L297.64,245.06 L297.96,245.41 L298.36,245.77 L298.82,246.12 L299.36,246.47 L299.95,246.82 L300.59,247.18 L301.28,247.53 L301.97,247.88 L302.66,248.23 L303.32,248.58 L303.91,248.94 L304.41,249.29 L304.79,249.64 L305.04,249.99 L305.14,250.35 L305.10,250.70 L304.95,251.05 L304.71,251.40 L304.36,251.75 L303.94,252.11 L303.45,252.46 L302.91,252.81 L302.34,253.16 L301.75,253.52 L301.16,253.87 L300.59,254.22 L300.04,254.57 L299.53,254.93 L299.06,255.28 L298.63,255.63 L298.26,255.98 L297.93,256.33 L297.66,256.69 L297.42,257.04 L297.23,257.39 L297.07,257.74 L296.94,258.10 L296.84,258.45 L296.76,258.80" stroke="#1f7a7a" stroke-width="1.05" fill="none"/>
<path d="M319.01,225.89 V237.50 M316.71,225.89 H321.31 M316.71,237.50 H321.31" stroke="#c02878" stroke-opacity="0.8" stroke-width="0.85" fill="none"/><rect x="314.21" y="229.60" width="9.6" height="3.4" fill="#c02878" fill-opacity="0.35" stroke="#c02878" stroke-opacity="0.95" stroke-width="0.75"/><rect x="317.91" y="230.80" width="2.2" height="2.2" fill="#c02878"/><path d="M325.01,217.60 L325.12,217.60 L325.16,218.24 L325.22,218.89 L325.29,219.53 L325.38,220.17 L325.49,220.82 L325.63,221.46 L325.79,222.10 L325.98,222.75 L326.19,223.39 L326.44,224.03 L326.71,224.67 L327.00,225.32 L327.30,225.96 L327.62,226.60 L327.93,227.25 L328.24,227.89 L328.52,228.53 L328.78,229.18 L328.99,229.82 L329.15,230.46 L329.26,231.11 L329.31,231.75 L329.29,232.39 L329.21,233.04 L329.06,233.68 L328.87,234.32 L328.62,234.97 L328.34,235.61 L328.03,236.25 L327.71,236.90 L327.39,237.54 L327.07,238.18 L326.77,238.82 L326.49,239.47 L326.24,240.11 L326.01,240.75 L325.81,241.40 L325.65,242.04 L325.50,242.68 L325.39,243.33 L325.30,243.97 L325.22,244.61 L325.17,245.26 L325.12,245.90 Z" fill="#c02878" fill-opacity="0.38"/><path d="M325.23,217.60 L325.32,218.24 L325.43,218.89 L325.57,219.53 L325.75,220.17 L325.97,220.82 L326.24,221.46 L326.56,222.10 L326.94,222.75 L327.37,223.39 L327.86,224.03 L328.40,224.67 L328.98,225.32 L329.60,225.96 L330.23,226.60 L330.86,227.25 L331.47,227.89 L332.04,228.53 L332.55,229.18 L332.97,229.82 L333.30,230.46 L333.51,231.11 L333.61,231.75 L333.57,232.39 L333.41,233.04 L333.12,233.68 L332.72,234.32 L332.23,234.97 L331.67,235.61 L331.06,236.25 L330.42,236.90 L329.77,237.54 L329.14,238.18 L328.54,238.82 L327.97,239.47 L327.46,240.11 L327.01,240.75 L326.62,241.40 L326.28,242.04 L326.00,242.68 L325.77,243.33 L325.58,243.97 L325.44,244.61 L325.32,245.26 L325.23,245.90" stroke="#c02878" stroke-width="1.05" fill="none"/>
<path d="M347.48,248.72 V254.56 M345.18,248.72 H349.78 M345.18,254.56 H349.78" stroke="#502038" stroke-opacity="0.8" stroke-width="0.85" fill="none"/><rect x="342.68" y="248.90" width="9.6" height="3.4" fill="#502038" fill-opacity="0.35" stroke="#502038" stroke-opacity="0.95" stroke-width="0.75"/><rect x="346.38" y="250.10" width="2.2" height="2.2" fill="#502038"/><path d="M353.48,245.30 L353.59,245.30 L353.65,245.62 L353.72,245.95 L353.82,246.27 L353.95,246.60 L354.11,246.92 L354.32,247.25 L354.57,247.57 L354.85,247.90 L355.18,248.22 L355.54,248.55 L355.92,248.87 L356.31,249.20 L356.69,249.52 L357.03,249.85 L357.33,250.17 L357.56,250.50 L357.72,250.82 L357.78,251.15 L357.76,251.47 L357.70,251.80 L357.59,252.12 L357.45,252.45 L357.26,252.77 L357.05,253.10 L356.81,253.42 L356.55,253.75 L356.29,254.07 L356.01,254.40 L355.74,254.72 L355.48,255.05 L355.23,255.37 L354.99,255.70 L354.77,256.02 L354.57,256.35 L354.39,256.67 L354.24,257.00 L354.10,257.32 L353.98,257.65 L353.88,257.97 L353.80,258.30 L353.73,258.62 L353.67,258.95 L353.63,259.27 L353.59,259.60 Z" fill="#502038" fill-opacity="0.38"/><path d="M353.70,245.30 L353.81,245.62 L353.96,245.95 L354.16,246.27 L354.42,246.60 L354.75,246.92 L355.16,247.25 L355.65,247.57 L356.23,247.90 L356.88,248.22 L357.60,248.55 L358.36,248.87 L359.14,249.20 L359.89,249.52 L360.59,249.85 L361.18,250.17 L361.65,250.50 L361.95,250.82 L362.08,251.15 L362.05,251.47 L361.92,251.80 L361.71,252.12 L361.41,252.45 L361.05,252.77 L360.62,253.10 L360.14,253.42 L359.63,253.75 L359.09,254.07 L358.55,254.40 L358.01,254.72 L357.48,255.05 L356.97,255.37 L356.50,255.70 L356.06,256.02 L355.67,256.35 L355.31,256.67 L354.99,257.00 L354.72,257.32 L354.48,257.65 L354.28,257.97 L354.12,258.30 L353.98,258.62 L353.87,258.95 L353.78,259.27 L353.70,259.60" stroke="#502038" stroke-width="1.05" fill="none"/>
<path d="M375.95,226.82 V237.26 M373.65,226.82 H378.25 M373.65,237.26 H378.25" stroke="#4a2a88" stroke-opacity="0.8" stroke-width="0.85" fill="none"/><rect x="371.15" y="229.60" width="9.6" height="3.4" fill="#4a2a88" fill-opacity="0.35" stroke="#4a2a88" stroke-opacity="0.95" stroke-width="0.75"/><rect x="374.85" y="230.80" width="2.2" height="2.2" fill="#4a2a88"/><path d="M381.95,219.80 L382.06,219.80 L382.11,220.38 L382.17,220.96 L382.25,221.54 L382.35,222.12 L382.47,222.70 L382.63,223.28 L382.81,223.86 L383.02,224.44 L383.27,225.02 L383.55,225.60 L383.85,226.18 L384.17,226.75 L384.51,227.33 L384.85,227.91 L385.17,228.49 L385.47,229.07 L385.74,229.65 L385.96,230.23 L386.12,230.81 L386.22,231.39 L386.25,231.97 L386.21,232.55 L386.12,233.13 L385.97,233.71 L385.78,234.29 L385.55,234.87 L385.28,235.45 L384.99,236.03 L384.69,236.61 L384.39,237.19 L384.09,237.77 L383.80,238.35 L383.53,238.93 L383.28,239.50 L383.05,240.08 L382.85,240.66 L382.68,241.24 L382.53,241.82 L382.41,242.40 L382.31,242.98 L382.22,243.56 L382.16,244.14 L382.10,244.72 L382.06,245.30 Z" fill="#4a2a88" fill-opacity="0.38"/><path d="M382.17,219.80 L382.27,220.38 L382.39,220.96 L382.54,221.54 L382.74,222.12 L382.99,222.70 L383.30,223.28 L383.67,223.86 L384.10,224.44 L384.59,225.02 L385.15,225.60 L385.75,226.18 L386.40,226.75 L387.07,227.33 L387.74,227.91 L388.39,228.49 L389.00,229.07 L389.53,229.65 L389.97,230.23 L390.30,230.81 L390.49,231.39 L390.55,231.97 L390.48,232.55 L390.29,233.13 L390.00,233.71 L389.61,234.29 L389.14,234.87 L388.61,235.45 L388.04,236.03 L387.44,236.61 L386.83,237.19 L386.23,237.77 L385.65,238.35 L385.11,238.93 L384.61,239.50 L384.16,240.08 L383.76,240.66 L383.41,241.24 L383.12,241.82 L382.87,242.40 L382.66,242.98 L382.49,243.56 L382.36,244.14 L382.26,244.72 L382.17,245.30" stroke="#4a2a88" stroke-width="1.05" fill="none"/>
<path d="M404.42,241.65 V249.66 M402.12,241.65 H406.72 M402.12,249.66 H406.72" stroke="#2a5a90" stroke-opacity="0.8" stroke-width="0.85" fill="none"/><rect x="399.62" y="243.00" width="9.6" height="3.4" fill="#2a5a90" fill-opacity="0.35" stroke="#2a5a90" stroke-opacity="0.95" stroke-width="0.75"/><rect x="403.32" y="244.20" width="2.2" height="2.2" fill="#2a5a90"/><path d="M410.42,236.60 L410.53,236.60 L410.58,237.05 L410.65,237.49 L410.74,237.94 L410.85,238.38 L410.99,238.83 L411.17,239.27 L411.38,239.72 L411.63,240.16 L411.91,240.61 L412.23,241.05 L412.57,241.50 L412.92,241.95 L413.28,242.39 L413.63,242.84 L413.95,243.28 L414.24,243.73 L414.46,244.17 L414.62,244.62 L414.71,245.06 L414.71,245.51 L414.66,245.95 L414.56,246.40 L414.42,246.85 L414.23,247.29 L414.00,247.74 L413.75,248.18 L413.48,248.63 L413.20,249.07 L412.91,249.52 L412.63,249.96 L412.35,250.41 L412.09,250.85 L411.84,251.30 L411.62,251.75 L411.42,252.19 L411.24,252.64 L411.09,253.08 L410.96,253.53 L410.85,253.97 L410.76,254.42 L410.68,254.86 L410.62,255.31 L410.57,255.75 L410.53,256.20 Z" fill="#2a5a90" fill-opacity="0.38"/><path d="M410.64,236.60 L410.74,237.05 L410.88,237.49 L411.05,237.94 L411.28,238.38 L411.56,238.83 L411.92,239.27 L412.34,239.72 L412.83,240.16 L413.40,240.61 L414.03,241.05 L414.71,241.50 L415.42,241.95 L416.14,242.39 L416.84,242.84 L417.49,243.28 L418.05,243.73 L418.51,244.17 L418.83,244.62 L419.00,245.06 L419.01,245.51 L418.91,245.95 L418.71,246.40 L418.41,246.85 L418.04,247.29 L417.59,247.74 L417.09,248.18 L416.54,248.63 L415.98,249.07 L415.40,249.52 L414.83,249.96 L414.28,250.41 L413.76,250.85 L413.27,251.30 L412.82,251.75 L412.42,252.19 L412.07,252.64 L411.76,253.08 L411.50,253.53 L411.28,253.97 L411.09,254.42 L410.94,254.86 L410.82,255.31 L410.72,255.75 L410.64,256.20" stroke="#2a5a90" stroke-width="1.05" fill="none"/>
<path d="M432.89,215.58 V227.32 M430.59,215.58 H435.19 M430.59,227.32 H435.19" stroke="#7a30d8" stroke-opacity="0.8" stroke-width="0.85" fill="none"/><rect x="428.09" y="219.50" width="9.6" height="3.4" fill="#7a30d8" fill-opacity="0.35" stroke="#7a30d8" stroke-opacity="0.95" stroke-width="0.75"/><rect x="431.79" y="220.70" width="2.2" height="2.2" fill="#7a30d8"/><path d="M438.89,207.00 L439.00,207.00 L439.04,207.65 L439.10,208.30 L439.17,208.95 L439.25,209.60 L439.36,210.25 L439.49,210.90 L439.64,211.55 L439.82,212.20 L440.02,212.85 L440.26,213.50 L440.51,214.15 L440.79,214.80 L441.09,215.45 L441.39,216.10 L441.70,216.75 L442.01,217.40 L442.29,218.05 L442.55,218.70 L442.78,219.35 L442.96,220.00 L443.10,220.65 L443.17,221.30 L443.19,221.95 L443.14,222.60 L443.02,223.25 L442.84,223.90 L442.61,224.55 L442.34,225.20 L442.03,225.85 L441.71,226.50 L441.38,227.15 L441.05,227.80 L440.73,228.45 L440.44,229.10 L440.17,229.75 L439.93,230.40 L439.73,231.05 L439.55,231.70 L439.40,232.35 L439.28,233.00 L439.18,233.65 L439.11,234.30 L439.05,234.95 L439.00,235.60 Z" fill="#7a30d8" fill-opacity="0.38"/><path d="M439.11,207.00 L439.20,207.65 L439.30,208.30 L439.44,208.95 L439.61,209.60 L439.82,210.25 L440.08,210.90 L440.39,211.55 L440.75,212.20 L441.16,212.85 L441.62,213.50 L442.14,214.15 L442.70,214.80 L443.29,215.45 L443.90,216.10 L444.52,216.75 L445.12,217.40 L445.70,218.05 L446.22,218.70 L446.67,219.35 L447.04,220.00 L447.30,220.65 L447.45,221.30 L447.49,221.95 L447.39,222.60 L447.15,223.25 L446.79,223.90 L446.33,224.55 L445.78,225.20 L445.17,225.85 L444.52,226.50 L443.86,227.15 L443.21,227.80 L442.58,228.45 L441.99,229.10 L441.46,229.75 L440.98,230.40 L440.56,231.05 L440.21,231.70 L439.91,232.35 L439.67,233.00 L439.48,233.65 L439.32,234.30 L439.20,234.95 L439.11,235.60" stroke="#7a30d8" stroke-width="1.05" fill="none"/>
<path d="M461.36,249.42 V255.48 M459.06,249.42 H463.66 M459.06,255.48 H463.66" stroke="#2a70c8" stroke-opacity="0.8" stroke-width="0.85" fill="none"/><rect x="456.56" y="250.10" width="9.6" height="3.4" fill="#2a70c8" fill-opacity="0.35" stroke="#2a70c8" stroke-opacity="0.95" stroke-width="0.75"/><rect x="460.26" y="251.30" width="2.2" height="2.2" fill="#2a70c8"/><path d="M467.36,245.30 L467.47,245.30 L467.52,245.64 L467.58,245.97 L467.65,246.31 L467.75,246.65 L467.87,246.98 L468.02,247.32 L468.20,247.65 L468.41,247.99 L468.66,248.33 L468.93,248.66 L469.22,249.00 L469.54,249.34 L469.87,249.67 L470.20,250.01 L470.53,250.35 L470.83,250.68 L471.11,251.02 L471.33,251.35 L471.51,251.69 L471.62,252.03 L471.66,252.36 L471.64,252.70 L471.55,253.04 L471.42,253.37 L471.23,253.71 L471.00,254.05 L470.74,254.38 L470.45,254.72 L470.15,255.05 L469.84,255.39 L469.54,255.73 L469.24,256.06 L468.97,256.40 L468.71,256.74 L468.48,257.07 L468.28,257.41 L468.10,257.75 L467.95,258.08 L467.82,258.42 L467.72,258.75 L467.63,259.09 L467.57,259.43 L467.51,259.76 L467.47,260.10 Z" fill="#2a70c8" fill-opacity="0.38"/><path d="M467.58,245.30 L467.67,245.64 L467.79,245.97 L467.95,246.31 L468.14,246.65 L468.39,246.98 L468.69,247.32 L469.05,247.65 L469.47,247.99 L469.95,248.33 L470.49,248.66 L471.09,249.00 L471.72,249.34 L472.38,249.67 L473.05,250.01 L473.70,250.35 L474.31,250.68 L474.85,251.02 L475.31,251.35 L475.65,251.69 L475.87,252.03 L475.96,252.36 L475.91,252.70 L475.75,253.04 L475.47,253.37 L475.10,253.71 L474.64,254.05 L474.12,254.38 L473.54,254.72 L472.94,255.05 L472.32,255.39 L471.71,255.73 L471.13,256.06 L470.58,256.40 L470.07,256.74 L469.61,257.07 L469.20,257.41 L468.84,257.75 L468.54,258.08 L468.29,258.42 L468.08,258.75 L467.91,259.09 L467.77,259.43 L467.67,259.76 L467.58,260.10" stroke="#2a70c8" stroke-width="1.05" fill="none"/>
<path d="M489.83,228.00 V237.62 M487.53,228.00 H492.13 M487.53,237.62 H492.13" stroke="#304058" stroke-opacity="0.8" stroke-width="0.85" fill="none"/><rect x="485.03" y="230.40" width="9.6" height="3.4" fill="#304058" fill-opacity="0.35" stroke="#304058" stroke-opacity="0.95" stroke-width="0.75"/><rect x="488.73" y="231.60" width="2.2" height="2.2" fill="#304058"/><path d="M495.83,221.50 L495.94,221.50 L495.99,222.03 L496.05,222.57 L496.13,223.10 L496.23,223.64 L496.35,224.17 L496.50,224.70 L496.68,225.24 L496.90,225.77 L497.14,226.31 L497.42,226.84 L497.72,227.38 L498.04,227.91 L498.37,228.44 L498.70,228.98 L499.03,229.51 L499.33,230.05 L499.60,230.58 L499.83,231.11 L499.99,231.65 L500.10,232.18 L500.13,232.72 L500.10,233.25 L500.01,233.78 L499.87,234.32 L499.68,234.85 L499.44,235.39 L499.18,235.92 L498.89,236.45 L498.59,236.99 L498.29,237.52 L497.98,238.06 L497.69,238.59 L497.42,239.12 L497.17,239.66 L496.94,240.19 L496.74,240.73 L496.57,241.26 L496.42,241.80 L496.29,242.33 L496.19,242.86 L496.10,243.40 L496.04,243.93 L495.98,244.47 L495.94,245.00 Z" fill="#304058" fill-opacity="0.38"/><path d="M496.05,221.50 L496.15,222.03 L496.27,222.57 L496.42,223.10 L496.62,223.64 L496.87,224.17 L497.17,224.70 L497.54,225.24 L497.96,225.77 L498.45,226.31 L499.00,226.84 L499.60,227.38 L500.24,227.91 L500.91,228.44 L501.58,228.98 L502.23,229.51 L502.84,230.05 L503.38,230.58 L503.82,231.11 L504.16,231.65 L504.36,232.18 L504.43,232.72 L504.37,233.25 L504.19,233.78 L503.90,234.32 L503.52,234.85 L503.06,235.39 L502.53,235.92 L501.95,236.45 L501.35,236.99 L500.74,237.52 L500.14,238.06 L499.56,238.59 L499.01,239.12 L498.51,239.66 L498.05,240.19 L497.65,240.73 L497.30,241.26 L497.00,241.80 L496.75,242.33 L496.54,242.86 L496.38,243.40 L496.24,243.93 L496.14,244.47 L496.05,245.00" stroke="#304058" stroke-width="1.05" fill="none"/>
<path d="M518.30,241.47 V249.16 M516.00,241.47 H520.60 M516.00,249.16 H520.60" stroke="#702028" stroke-opacity="0.8" stroke-width="0.85" fill="none"/><rect x="513.50" y="242.70" width="9.6" height="3.4" fill="#702028" fill-opacity="0.35" stroke="#702028" stroke-opacity="0.95" stroke-width="0.75"/><rect x="517.20" y="243.90" width="2.2" height="2.2" fill="#702028"/><path d="M524.30,236.60 L524.41,236.60 L524.46,237.03 L524.53,237.45 L524.61,237.88 L524.73,238.31 L524.87,238.74 L525.04,239.16 L525.25,239.59 L525.49,240.02 L525.77,240.45 L526.08,240.87 L526.42,241.30 L526.77,241.73 L527.13,242.15 L527.48,242.58 L527.80,243.01 L528.09,243.44 L528.32,243.86 L528.49,244.29 L528.58,244.72 L528.60,245.15 L528.55,245.57 L528.46,246.00 L528.31,246.43 L528.13,246.85 L527.91,247.28 L527.66,247.71 L527.39,248.14 L527.10,248.56 L526.81,248.99 L526.53,249.42 L526.25,249.85 L525.98,250.27 L525.74,250.70 L525.51,251.13 L525.31,251.55 L525.13,251.98 L524.98,252.41 L524.84,252.84 L524.73,253.26 L524.64,253.69 L524.56,254.12 L524.50,254.55 L524.45,254.97 L524.41,255.40 Z" fill="#702028" fill-opacity="0.38"/><path d="M524.52,236.60 L524.62,237.03 L524.75,237.45 L524.93,237.88 L525.15,238.31 L525.43,238.74 L525.78,239.16 L526.20,239.59 L526.69,240.02 L527.25,240.45 L527.87,240.87 L528.54,241.30 L529.25,241.73 L529.96,242.15 L530.66,242.58 L531.31,243.01 L531.88,243.44 L532.35,243.86 L532.68,244.29 L532.86,244.72 L532.89,245.15 L532.81,245.57 L532.62,246.00 L532.33,246.43 L531.96,246.85 L531.52,247.28 L531.02,247.71 L530.47,248.14 L529.91,248.56 L529.33,248.99 L528.75,249.42 L528.20,249.85 L527.67,250.27 L527.18,250.70 L526.73,251.13 L526.32,251.55 L525.96,251.98 L525.65,252.41 L525.39,252.84 L525.16,253.26 L524.97,253.69 L524.82,254.12 L524.70,254.55 L524.60,254.97 L524.52,255.40" stroke="#702028" stroke-width="1.05" fill="none"/>
<path d="M546.77,214.14 V225.50 M544.47,214.14 H549.07 M544.47,225.50 H549.07" stroke="#7a5a3a" stroke-opacity="0.8" stroke-width="0.85" fill="none"/><rect x="541.97" y="217.80" width="9.6" height="3.4" fill="#7a5a3a" fill-opacity="0.35" stroke="#7a5a3a" stroke-opacity="0.95" stroke-width="0.75"/><rect x="545.67" y="219.00" width="2.2" height="2.2" fill="#7a5a3a"/><path d="M552.77,205.90 L552.88,205.90 L552.92,206.53 L552.98,207.16 L553.05,207.79 L553.13,208.42 L553.24,209.05 L553.37,209.68 L553.53,210.31 L553.71,210.94 L553.92,211.57 L554.16,212.20 L554.42,212.83 L554.71,213.45 L555.01,214.08 L555.32,214.71 L555.63,215.34 L555.93,215.97 L556.22,216.60 L556.48,217.23 L556.70,217.86 L556.87,218.49 L557.00,219.12 L557.06,219.75 L557.06,220.38 L557.00,221.01 L556.87,221.64 L556.68,222.27 L556.45,222.90 L556.17,223.53 L555.86,224.16 L555.54,224.79 L555.21,225.42 L554.89,226.05 L554.58,226.68 L554.29,227.30 L554.03,227.93 L553.80,228.56 L553.59,229.19 L553.42,229.82 L553.27,230.45 L553.16,231.08 L553.06,231.71 L552.98,232.34 L552.93,232.97 L552.88,233.60 Z" fill="#7a5a3a" fill-opacity="0.38"/><path d="M552.99,205.90 L553.08,206.53 L553.19,207.16 L553.33,207.79 L553.50,208.42 L553.72,209.05 L553.98,209.68 L554.29,210.31 L554.65,210.94 L555.08,211.57 L555.55,212.20 L556.07,212.83 L556.64,213.45 L557.24,214.08 L557.86,214.71 L558.48,215.34 L559.09,215.97 L559.66,216.60 L560.18,217.23 L560.63,217.86 L560.98,218.49 L561.22,219.12 L561.35,219.75 L561.36,220.38 L561.23,221.01 L560.97,221.64 L560.60,222.27 L560.12,222.90 L559.57,223.53 L558.96,224.16 L558.31,224.79 L557.66,225.42 L557.01,226.05 L556.39,226.68 L555.82,227.30 L555.29,227.93 L554.82,228.56 L554.42,229.19 L554.07,229.82 L553.78,230.45 L553.54,231.08 L553.35,231.71 L553.20,232.34 L553.08,232.97 L552.99,233.60" stroke="#7a5a3a" stroke-width="1.05" fill="none"/>
<path d="M575.24,244.66 V252.24 M572.94,244.66 H577.54 M572.94,252.24 H577.54" stroke="#8a5820" stroke-opacity="0.8" stroke-width="0.85" fill="none"/><rect x="570.44" y="246.10" width="9.6" height="3.4" fill="#8a5820" fill-opacity="0.35" stroke="#8a5820" stroke-opacity="0.95" stroke-width="0.75"/><rect x="574.14" y="247.30" width="2.2" height="2.2" fill="#8a5820"/><path d="M581.24,239.50 L581.35,239.50 L581.40,239.92 L581.46,240.34 L581.53,240.76 L581.63,241.18 L581.75,241.60 L581.90,242.02 L582.08,242.44 L582.29,242.86 L582.53,243.28 L582.80,243.70 L583.09,244.12 L583.41,244.55 L583.74,244.97 L584.07,245.39 L584.40,245.81 L584.70,246.23 L584.97,246.65 L585.20,247.07 L585.38,247.49 L585.49,247.91 L585.54,248.33 L585.52,248.75 L585.44,249.17 L585.31,249.59 L585.12,250.01 L584.89,250.43 L584.63,250.85 L584.34,251.27 L584.04,251.69 L583.73,252.11 L583.43,252.53 L583.13,252.95 L582.86,253.38 L582.60,253.80 L582.37,254.22 L582.16,254.64 L581.99,255.06 L581.83,255.48 L581.71,255.90 L581.60,256.32 L581.51,256.74 L581.45,257.16 L581.39,257.58 L581.35,258.00 Z" fill="#8a5820" fill-opacity="0.38"/><path d="M581.46,239.50 L581.55,239.92 L581.67,240.34 L581.83,240.76 L582.02,241.18 L582.27,241.60 L582.56,242.02 L582.92,242.44 L583.34,242.86 L583.82,243.28 L584.36,243.70 L584.95,244.12 L585.58,244.55 L586.24,244.97 L586.90,245.39 L587.55,245.81 L588.16,246.23 L588.71,246.65 L589.17,247.07 L589.52,247.49 L589.75,247.91 L589.84,248.33 L589.80,248.75 L589.64,249.17 L589.37,249.59 L589.00,250.01 L588.54,250.43 L588.02,250.85 L587.45,251.27 L586.84,251.69 L586.22,252.11 L585.61,252.53 L585.03,252.95 L584.47,253.38 L583.96,253.80 L583.50,254.22 L583.09,254.64 L582.73,255.06 L582.43,255.48 L582.17,255.90 L581.96,256.32 L581.79,256.74 L581.65,257.16 L581.55,257.58 L581.46,258.00" stroke="#8a5820" stroke-width="1.05" fill="none"/>
<path d="M603.71,217.07 V228.26 M601.41,217.07 H606.01 M601.41,228.26 H606.01" stroke="#28a028" stroke-opacity="0.8" stroke-width="0.85" fill="none"/><rect x="598.91" y="220.40" width="9.6" height="3.4" fill="#28a028" fill-opacity="0.35" stroke="#28a028" stroke-opacity="0.95" stroke-width="0.75"/><rect x="602.61" y="221.60" width="2.2" height="2.2" fill="#28a028"/><path d="M609.71,209.30 L609.82,209.30 L609.87,209.92 L609.92,210.54 L610.00,211.16 L610.09,211.78 L610.21,212.40 L610.35,213.02 L610.52,213.64 L610.72,214.26 L610.95,214.88 L611.21,215.50 L611.50,216.12 L611.80,216.75 L612.12,217.37 L612.45,217.99 L612.77,218.61 L613.08,219.23 L613.36,219.85 L613.60,220.47 L613.79,221.09 L613.93,221.71 L614.00,222.33 L614.00,222.95 L613.95,223.57 L613.83,224.19 L613.66,224.81 L613.45,225.43 L613.19,226.05 L612.90,226.67 L612.60,227.29 L612.28,227.91 L611.97,228.53 L611.67,229.15 L611.38,229.77 L611.12,230.40 L610.88,231.02 L610.66,231.64 L610.48,232.26 L610.32,232.88 L610.19,233.50 L610.08,234.12 L609.99,234.74 L609.92,235.36 L609.86,235.98 L609.82,236.60 Z" fill="#28a028" fill-opacity="0.38"/><path d="M609.93,209.30 L610.02,209.92 L610.14,210.54 L610.29,211.16 L610.47,211.78 L610.71,212.40 L610.99,213.02 L611.34,213.64 L611.74,214.26 L612.20,214.88 L612.72,215.50 L613.29,216.12 L613.90,216.75 L614.54,217.37 L615.19,217.99 L615.83,218.61 L616.44,219.23 L617.00,219.85 L617.48,220.47 L617.87,221.09 L618.14,221.71 L618.29,222.33 L618.30,222.95 L618.19,223.57 L617.96,224.19 L617.62,224.81 L617.18,225.43 L616.67,226.05 L616.10,226.67 L615.49,227.29 L614.86,227.91 L614.24,228.53 L613.63,229.15 L613.05,229.77 L612.52,230.40 L612.04,231.02 L611.62,231.64 L611.25,232.26 L610.93,232.88 L610.66,233.50 L610.45,234.12 L610.27,234.74 L610.13,235.36 L610.02,235.98 L609.93,236.60" stroke="#28a028" stroke-width="1.05" fill="none"/>
<path d="M632.18,235.55 V244.16 M629.88,235.55 H634.48 M629.88,244.16 H634.48" stroke="#b0a818" stroke-opacity="0.8" stroke-width="0.85" fill="none"/><rect x="627.38" y="237.70" width="9.6" height="3.4" fill="#b0a818" fill-opacity="0.35" stroke="#b0a818" stroke-opacity="0.95" stroke-width="0.75"/><rect x="631.08" y="238.90" width="2.2" height="2.2" fill="#b0a818"/><path d="M638.18,229.40 L638.29,229.40 L638.33,229.88 L638.39,230.35 L638.46,230.83 L638.55,231.31 L638.66,231.79 L638.80,232.26 L638.96,232.74 L639.15,233.22 L639.36,233.70 L639.61,234.17 L639.88,234.65 L640.17,235.13 L640.48,235.60 L640.79,236.08 L641.11,236.56 L641.41,237.04 L641.70,237.51 L641.95,237.99 L642.16,238.47 L642.33,238.95 L642.43,239.42 L642.48,239.90 L642.46,240.38 L642.38,240.85 L642.23,241.33 L642.03,241.81 L641.79,242.29 L641.50,242.76 L641.20,243.24 L640.88,243.72 L640.56,244.20 L640.24,244.67 L639.94,245.15 L639.66,245.63 L639.40,246.10 L639.18,246.58 L638.98,247.06 L638.81,247.54 L638.67,248.01 L638.56,248.49 L638.47,248.97 L638.39,249.45 L638.34,249.92 L638.29,250.40 Z" fill="#b0a818" fill-opacity="0.38"/><path d="M638.40,229.40 L638.49,229.88 L638.60,230.35 L638.74,230.83 L638.92,231.31 L639.14,231.79 L639.41,232.26 L639.74,232.74 L640.11,233.22 L640.55,233.70 L641.04,234.17 L641.58,234.65 L642.16,235.13 L642.78,235.60 L643.41,236.08 L644.04,236.56 L644.65,237.04 L645.22,237.51 L645.72,237.99 L646.15,238.47 L646.48,238.95 L646.69,239.42 L646.78,239.90 L646.74,240.38 L646.57,240.85 L646.28,241.33 L645.88,241.81 L645.39,242.29 L644.83,242.76 L644.22,243.24 L643.58,243.72 L642.93,244.20 L642.30,244.67 L641.70,245.15 L641.14,245.63 L640.63,246.10 L640.18,246.58 L639.78,247.06 L639.45,247.54 L639.17,248.01 L638.94,248.49 L638.75,248.97 L638.61,249.45 L638.49,249.92 L638.40,250.40" stroke="#b0a818" stroke-width="1.05" fill="none"/>
<path d="M660.65,204.81 V216.70 M658.35,204.81 H662.95 M658.35,216.70 H662.95" stroke="#333333" stroke-opacity="0.8" stroke-width="0.85" fill="none"/><rect x="655.85" y="207.80" width="9.6" height="3.4" fill="#333333" fill-opacity="0.35" stroke="#333333" stroke-opacity="0.95" stroke-width="0.75"/><rect x="659.55" y="209.00" width="2.2" height="2.2" fill="#333333"/><path d="M666.65,197.50 L666.76,197.50 L666.81,198.16 L666.88,198.82 L666.97,199.48 L667.09,200.15 L667.24,200.81 L667.43,201.47 L667.65,202.13 L667.91,202.79 L668.21,203.45 L668.54,204.11 L668.89,204.78 L669.26,205.44 L669.63,206.10 L669.98,206.76 L670.30,207.42 L670.57,208.08 L670.77,208.74 L670.90,209.40 L670.95,210.07 L670.93,210.73 L670.86,211.39 L670.74,212.05 L670.57,212.71 L670.38,213.37 L670.15,214.03 L669.89,214.70 L669.62,215.36 L669.34,216.02 L669.06,216.68 L668.78,217.34 L668.51,218.00 L668.26,218.66 L668.03,219.32 L667.81,219.99 L667.62,220.65 L667.45,221.31 L667.30,221.97 L667.18,222.63 L667.07,223.29 L666.98,223.95 L666.91,224.62 L666.85,225.28 L666.80,225.94 L666.76,226.60 Z" fill="#333333" fill-opacity="0.38"/><path d="M666.87,197.50 L666.98,198.16 L667.11,198.82 L667.30,199.48 L667.53,200.15 L667.83,200.81 L668.20,201.47 L668.65,202.13 L669.17,202.79 L669.77,203.45 L670.43,204.11 L671.14,204.78 L671.87,205.44 L672.60,206.10 L673.31,206.76 L673.94,207.42 L674.48,208.08 L674.89,208.74 L675.16,209.40 L675.25,210.07 L675.20,210.73 L675.06,211.39 L674.82,212.05 L674.50,212.71 L674.10,213.37 L673.64,214.03 L673.13,214.70 L672.59,215.36 L672.03,216.02 L671.47,216.68 L670.91,217.34 L670.38,218.00 L669.87,218.66 L669.40,219.32 L668.97,219.99 L668.59,220.65 L668.25,221.31 L667.95,221.97 L667.70,222.63 L667.49,223.29 L667.31,223.95 L667.16,224.62 L667.04,225.28 L666.95,225.94 L666.87,226.60" stroke="#333333" stroke-width="1.05" fill="none"/>
<path d="M233.60,257.90 L262.07,240.80 L290.54,250.40 L319.01,231.90 L347.48,251.20 L375.95,231.90 L404.42,245.30 L432.89,221.80 L461.36,252.40 L489.83,232.70 L518.30,245.00 L546.77,220.10 L575.24,248.40 L603.71,222.70 L632.18,240.00 L660.65,210.10" stroke="#2a2a2a" stroke-width="0.8" fill="none"/>
<path d="M233.60,347.70 V352.50 M231.30,347.70 H235.90 M231.30,352.50 H235.90" stroke="#333333" stroke-opacity="0.8" stroke-width="0.85" fill="none"/><rect x="228.80" y="347.80" width="9.6" height="3.4" fill="#333333" fill-opacity="0.35" stroke="#333333" stroke-opacity="0.95" stroke-width="0.75"/><rect x="232.50" y="349.00" width="2.2" height="2.2" fill="#333333"/><path d="M239.60,346.20 L239.71,346.20 L239.76,346.39 L239.82,346.58 L239.90,346.77 L240.01,346.96 L240.14,347.15 L240.30,347.35 L240.49,347.54 L240.72,347.73 L240.97,347.92 L241.26,348.11 L241.58,348.30 L241.91,348.49 L242.26,348.68 L242.60,348.87 L242.92,349.06 L243.22,349.25 L243.48,349.45 L243.68,349.64 L243.82,349.83 L243.89,350.02 L243.89,350.21 L243.83,350.40 L243.72,350.59 L243.55,350.78 L243.35,350.97 L243.11,351.16 L242.84,351.35 L242.55,351.55 L242.26,351.74 L241.96,351.93 L241.67,352.12 L241.39,352.31 L241.12,352.50 L240.88,352.69 L240.67,352.88 L240.48,353.07 L240.31,353.26 L240.17,353.45 L240.05,353.65 L239.95,353.84 L239.87,354.03 L239.80,354.22 L239.75,354.41 L239.71,354.60 Z" fill="#333333" fill-opacity="0.38"/><path d="M239.82,346.20 L239.92,346.39 L240.04,346.58 L240.21,346.77 L240.41,346.96 L240.68,347.15 L241.00,347.35 L241.38,347.54 L241.83,347.73 L242.35,347.92 L242.93,348.11 L243.56,348.30 L244.22,348.49 L244.91,348.68 L245.59,348.87 L246.25,349.06 L246.85,349.25 L247.36,349.45 L247.77,349.64 L248.05,349.83 L248.19,350.02 L248.18,350.21 L248.06,350.40 L247.83,350.59 L247.51,350.78 L247.10,350.97 L246.62,351.16 L246.08,351.35 L245.50,351.55 L244.91,351.74 L244.32,351.93 L243.73,352.12 L243.17,352.31 L242.65,352.50 L242.17,352.69 L241.74,352.88 L241.35,353.07 L241.02,353.26 L240.73,353.45 L240.50,353.65 L240.30,353.84 L240.14,354.03 L240.01,354.22 L239.90,354.41 L239.82,354.60" stroke="#333333" stroke-width="1.05" fill="none"/>
<path d="M262.07,347.70 V352.50 M259.77,347.70 H264.37 M259.77,352.50 H264.37" stroke="#1f8080" stroke-opacity="0.8" stroke-width="0.85" fill="none"/><rect x="257.27" y="347.80" width="9.6" height="3.4" fill="#1f8080" fill-opacity="0.35" stroke="#1f8080" stroke-opacity="0.95" stroke-width="0.75"/><rect x="260.97" y="349.00" width="2.2" height="2.2" fill="#1f8080"/><path d="M268.07,346.20 L268.18,346.20 L268.23,346.39 L268.29,346.58 L268.37,346.77 L268.48,346.96 L268.61,347.15 L268.77,347.35 L268.96,347.54 L269.19,347.73 L269.44,347.92 L269.73,348.11 L270.05,348.30 L270.38,348.49 L270.73,348.68 L271.07,348.87 L271.39,349.06 L271.69,349.25 L271.95,349.45 L272.15,349.64 L272.29,349.83 L272.36,350.02 L272.36,350.21 L272.30,350.40 L272.19,350.59 L272.02,350.78 L271.82,350.97 L271.58,351.16 L271.31,351.35 L271.02,351.55 L270.73,351.74 L270.43,351.93 L270.14,352.12 L269.86,352.31 L269.59,352.50 L269.35,352.69 L269.14,352.88 L268.95,353.07 L268.78,353.26 L268.64,353.45 L268.52,353.65 L268.42,353.84 L268.34,354.03 L268.27,354.22 L268.22,354.41 L268.18,354.60 Z" fill="#1f8080" fill-opacity="0.38"/><path d="M268.29,346.20 L268.39,346.39 L268.51,346.58 L268.68,346.77 L268.88,346.96 L269.15,347.15 L269.47,347.35 L269.85,347.54 L270.30,347.73 L270.82,347.92 L271.40,348.11 L272.03,348.30 L272.69,348.49 L273.38,348.68 L274.06,348.87 L274.72,349.06 L275.32,349.25 L275.83,349.45 L276.24,349.64 L276.52,349.83 L276.66,350.02 L276.65,350.21 L276.53,350.40 L276.30,350.59 L275.98,350.78 L275.57,350.97 L275.09,351.16 L274.55,351.35 L273.97,351.55 L273.38,351.74 L272.79,351.93 L272.20,352.12 L271.64,352.31 L271.12,352.50 L270.64,352.69 L270.21,352.88 L269.82,353.07 L269.49,353.26 L269.20,353.45 L268.97,353.65 L268.77,353.84 L268.61,354.03 L268.48,354.22 L268.37,354.41 L268.29,354.60" stroke="#1f8080" stroke-width="1.05" fill="none"/>
<path d="M290.54,324.40 V334.74 M288.24,324.40 H292.84 M288.24,334.74 H292.84" stroke="#1f7a7a" stroke-opacity="0.8" stroke-width="0.85" fill="none"/><rect x="285.74" y="327.60" width="9.6" height="3.4" fill="#1f7a7a" fill-opacity="0.35" stroke="#1f7a7a" stroke-opacity="0.95" stroke-width="0.75"/><rect x="289.44" y="328.80" width="2.2" height="2.2" fill="#1f7a7a"/><path d="M296.54,316.80 L296.65,316.80 L296.69,317.37 L296.75,317.95 L296.81,318.52 L296.90,319.09 L297.00,319.66 L297.13,320.24 L297.28,320.81 L297.46,321.38 L297.66,321.95 L297.90,322.53 L298.15,323.10 L298.43,323.67 L298.72,324.25 L299.02,324.82 L299.33,325.39 L299.63,325.96 L299.92,326.54 L300.18,327.11 L300.41,327.68 L300.60,328.25 L300.74,328.83 L300.82,329.40 L300.84,329.97 L300.80,330.55 L300.68,331.12 L300.51,331.69 L300.28,332.26 L300.01,332.84 L299.70,333.41 L299.38,333.98 L299.05,334.55 L298.72,335.13 L298.40,335.70 L298.10,336.27 L297.83,336.85 L297.59,337.42 L297.38,337.99 L297.20,338.56 L297.05,339.14 L296.93,339.71 L296.83,340.28 L296.76,340.85 L296.70,341.43 L296.65,342.00 Z" fill="#1f7a7a" fill-opacity="0.38"/><path d="M296.76,316.80 L296.85,317.37 L296.95,317.95 L297.09,318.52 L297.26,319.09 L297.47,319.66 L297.72,320.24 L298.03,320.81 L298.38,321.38 L298.79,321.95 L299.25,322.53 L299.76,323.10 L300.31,323.67 L300.90,324.25 L301.51,324.82 L302.12,325.39 L302.73,325.96 L303.30,326.54 L303.83,327.11 L304.29,327.68 L304.66,328.25 L304.93,328.83 L305.09,329.40 L305.14,329.97 L305.05,330.55 L304.83,331.12 L304.48,331.69 L304.02,332.26 L303.48,332.84 L302.87,333.41 L302.22,333.98 L301.55,334.55 L300.90,335.13 L300.26,335.70 L299.67,336.27 L299.13,336.85 L298.65,337.42 L298.23,337.99 L297.87,338.56 L297.57,339.14 L297.32,339.71 L297.13,340.28 L296.97,340.85 L296.85,341.43 L296.76,342.00" stroke="#1f7a7a" stroke-width="1.05" fill="none"/>
<path d="M319.01,337.29 V345.20 M316.71,337.29 H321.31 M316.71,345.20 H321.31" stroke="#c02878" stroke-opacity="0.8" stroke-width="0.85" fill="none"/><rect x="314.21" y="338.90" width="9.6" height="3.4" fill="#c02878" fill-opacity="0.35" stroke="#c02878" stroke-opacity="0.95" stroke-width="0.75"/><rect x="317.91" y="340.10" width="2.2" height="2.2" fill="#c02878"/><path d="M325.01,331.90 L325.12,331.90 L325.17,332.34 L325.23,332.78 L325.30,333.22 L325.40,333.65 L325.52,334.09 L325.67,334.53 L325.85,334.97 L326.06,335.41 L326.30,335.85 L326.56,336.29 L326.86,336.72 L327.17,337.16 L327.50,337.60 L327.83,338.04 L328.16,338.48 L328.46,338.92 L328.74,339.36 L328.97,339.80 L329.14,340.23 L329.26,340.67 L329.31,341.11 L329.29,341.55 L329.21,341.99 L329.08,342.43 L328.90,342.87 L328.67,343.30 L328.41,343.74 L328.12,344.18 L327.82,344.62 L327.51,345.06 L327.20,345.50 L326.91,345.94 L326.63,346.38 L326.37,346.81 L326.14,347.25 L325.94,347.69 L325.76,348.13 L325.60,348.57 L325.48,349.01 L325.37,349.45 L325.29,349.88 L325.22,350.32 L325.16,350.76 L325.12,351.20 Z" fill="#c02878" fill-opacity="0.38"/><path d="M325.23,331.90 L325.32,332.34 L325.44,332.78 L325.60,333.22 L325.79,333.65 L326.03,334.09 L326.33,334.53 L326.69,334.97 L327.10,335.41 L327.58,335.85 L328.12,336.29 L328.71,336.72 L329.34,337.16 L329.99,337.60 L330.66,338.04 L331.31,338.48 L331.92,338.92 L332.46,339.36 L332.92,339.80 L333.28,340.23 L333.51,340.67 L333.61,341.11 L333.57,341.55 L333.42,341.99 L333.15,342.43 L332.78,342.87 L332.33,343.30 L331.80,343.74 L331.23,344.18 L330.62,344.62 L330.01,345.06 L329.40,345.50 L328.81,345.94 L328.25,346.38 L327.74,346.81 L327.27,347.25 L326.86,347.69 L326.50,348.13 L326.20,348.57 L325.94,349.01 L325.73,349.45 L325.56,349.88 L325.42,350.32 L325.32,350.76 L325.23,351.20" stroke="#c02878" stroke-width="1.05" fill="none"/>
<path d="M347.48,337.67 V345.20 M345.18,337.67 H349.78 M345.18,345.20 H349.78" stroke="#502038" stroke-opacity="0.8" stroke-width="0.85" fill="none"/><rect x="342.68" y="338.90" width="9.6" height="3.4" fill="#502038" fill-opacity="0.35" stroke="#502038" stroke-opacity="0.95" stroke-width="0.75"/><rect x="346.38" y="340.10" width="2.2" height="2.2" fill="#502038"/><path d="M353.48,332.80 L353.59,332.80 L353.64,333.22 L353.70,333.64 L353.79,334.05 L353.90,334.47 L354.03,334.89 L354.20,335.31 L354.40,335.73 L354.63,336.15 L354.90,336.56 L355.20,336.98 L355.52,337.40 L355.86,337.82 L356.21,338.24 L356.56,338.65 L356.88,339.07 L357.18,339.49 L357.43,339.91 L357.61,340.33 L357.73,340.75 L357.78,341.16 L357.76,341.58 L357.68,342.00 L357.55,342.42 L357.38,342.84 L357.17,343.25 L356.92,343.67 L356.65,344.09 L356.36,344.51 L356.07,344.93 L355.78,345.35 L355.49,345.76 L355.22,346.18 L354.97,346.60 L354.73,347.02 L354.52,347.44 L354.34,347.85 L354.17,348.27 L354.04,348.69 L353.92,349.11 L353.82,349.53 L353.74,349.95 L353.68,350.36 L353.63,350.78 L353.59,351.20 Z" fill="#502038" fill-opacity="0.38"/><path d="M353.70,332.80 L353.80,333.22 L353.93,333.64 L354.10,334.05 L354.31,334.47 L354.58,334.89 L354.91,335.31 L355.31,335.73 L355.78,336.15 L356.31,336.56 L356.91,336.98 L357.56,337.40 L358.24,337.82 L358.94,338.24 L359.63,338.65 L360.29,339.07 L360.88,339.49 L361.37,339.91 L361.75,340.33 L361.99,340.75 L362.08,341.16 L362.03,341.58 L361.88,342.00 L361.63,342.42 L361.28,342.84 L360.85,343.25 L360.36,343.67 L359.82,344.09 L359.25,344.51 L358.66,344.93 L358.08,345.35 L357.51,345.76 L356.96,346.18 L356.45,346.60 L355.98,347.02 L355.56,347.44 L355.19,347.85 L354.87,348.27 L354.59,348.69 L354.36,349.11 L354.17,349.53 L354.01,349.95 L353.88,350.36 L353.78,350.78 L353.70,351.20" stroke="#502038" stroke-width="1.05" fill="none"/>
<path d="M375.95,324.49 V334.76 M373.65,324.49 H378.25 M373.65,334.76 H378.25" stroke="#4a2a88" stroke-opacity="0.8" stroke-width="0.85" fill="none"/><rect x="371.15" y="327.10" width="9.6" height="3.4" fill="#4a2a88" fill-opacity="0.35" stroke="#4a2a88" stroke-opacity="0.95" stroke-width="0.75"/><rect x="374.85" y="328.30" width="2.2" height="2.2" fill="#4a2a88"/><path d="M381.95,317.70 L382.06,317.70 L382.11,318.27 L382.17,318.84 L382.25,319.41 L382.36,319.98 L382.48,320.55 L382.64,321.12 L382.83,321.69 L383.06,322.26 L383.31,322.83 L383.60,323.40 L383.91,323.97 L384.25,324.55 L384.59,325.12 L384.93,325.69 L385.26,326.26 L385.56,326.83 L385.81,327.40 L386.02,327.97 L386.17,328.54 L386.24,329.11 L386.24,329.68 L386.19,330.25 L386.08,330.82 L385.92,331.39 L385.71,331.96 L385.47,332.53 L385.21,333.10 L384.92,333.67 L384.62,334.24 L384.32,334.81 L384.03,335.38 L383.75,335.95 L383.48,336.52 L383.24,337.10 L383.02,337.67 L382.83,338.24 L382.66,338.81 L382.52,339.38 L382.40,339.95 L382.30,340.52 L382.22,341.09 L382.15,341.66 L382.10,342.23 L382.06,342.80 Z" fill="#4a2a88" fill-opacity="0.38"/><path d="M382.17,317.70 L382.27,318.27 L382.39,318.84 L382.55,319.41 L382.76,319.98 L383.02,320.55 L383.34,321.12 L383.72,321.69 L384.17,322.26 L384.68,322.83 L385.25,323.40 L385.88,323.97 L386.54,324.55 L387.23,325.12 L387.91,325.69 L388.56,326.26 L389.16,326.83 L389.68,327.40 L390.09,327.97 L390.38,328.54 L390.53,329.11 L390.54,329.68 L390.42,330.25 L390.20,330.82 L389.89,331.39 L389.48,331.96 L389.00,332.53 L388.46,333.10 L387.89,333.67 L387.29,334.24 L386.69,334.81 L386.11,335.38 L385.55,335.95 L385.02,336.52 L384.53,337.10 L384.10,337.67 L383.71,338.24 L383.38,338.81 L383.09,339.38 L382.85,339.95 L382.65,340.52 L382.49,341.09 L382.36,341.66 L382.25,342.23 L382.17,342.80" stroke="#4a2a88" stroke-width="1.05" fill="none"/>
<path d="M404.42,312.45 V325.52 M402.12,312.45 H406.72 M402.12,325.52 H406.72" stroke="#2a5a90" stroke-opacity="0.8" stroke-width="0.85" fill="none"/><rect x="399.62" y="316.70" width="9.6" height="3.4" fill="#2a5a90" fill-opacity="0.35" stroke="#2a5a90" stroke-opacity="0.95" stroke-width="0.75"/><rect x="403.32" y="317.90" width="2.2" height="2.2" fill="#2a5a90"/><path d="M410.42,303.40 L410.53,303.40 L410.58,304.12 L410.63,304.85 L410.71,305.57 L410.80,306.30 L410.92,307.02 L411.07,307.75 L411.24,308.47 L411.44,309.20 L411.67,309.92 L411.93,310.65 L412.22,311.38 L412.53,312.10 L412.85,312.82 L413.18,313.55 L413.50,314.27 L413.80,315.00 L414.08,315.72 L414.32,316.45 L414.51,317.17 L414.64,317.90 L414.71,318.62 L414.71,319.35 L414.65,320.07 L414.53,320.80 L414.36,321.52 L414.14,322.25 L413.88,322.97 L413.60,323.70 L413.29,324.42 L412.98,325.15 L412.67,325.88 L412.37,326.60 L412.08,327.32 L411.82,328.05 L411.58,328.77 L411.37,329.50 L411.18,330.22 L411.03,330.95 L410.89,331.67 L410.79,332.40 L410.70,333.12 L410.63,333.85 L410.57,334.57 L410.53,335.30 Z" fill="#2a5a90" fill-opacity="0.38"/><path d="M410.64,303.40 L410.73,304.12 L410.85,304.85 L411.00,305.57 L411.19,306.30 L411.42,307.02 L411.71,307.75 L412.06,308.47 L412.46,309.20 L412.92,309.92 L413.45,310.65 L414.02,311.38 L414.64,312.10 L415.28,312.82 L415.93,313.55 L416.58,314.27 L417.19,315.00 L417.74,315.72 L418.22,316.45 L418.60,317.17 L418.87,317.90 L419.00,318.62 L419.01,319.35 L418.88,320.07 L418.65,320.80 L418.30,321.52 L417.86,322.25 L417.34,322.97 L416.77,323.70 L416.16,324.42 L415.54,325.15 L414.92,325.88 L414.31,326.60 L413.74,327.32 L413.22,328.05 L412.74,328.77 L412.32,329.50 L411.95,330.22 L411.63,330.95 L411.37,331.67 L411.15,332.40 L410.98,333.12 L410.84,333.85 L410.73,334.57 L410.64,335.30" stroke="#2a5a90" stroke-width="1.05" fill="none"/>
<path d="M432.89,312.45 V324.84 M430.59,312.45 H435.19 M430.59,324.84 H435.19" stroke="#7a30d8" stroke-opacity="0.8" stroke-width="0.85" fill="none"/><rect x="428.09" y="316.70" width="9.6" height="3.4" fill="#7a30d8" fill-opacity="0.35" stroke="#7a30d8" stroke-opacity="0.95" stroke-width="0.75"/><rect x="431.79" y="317.90" width="2.2" height="2.2" fill="#7a30d8"/><path d="M438.89,303.40 L439.00,303.40 L439.04,304.09 L439.10,304.77 L439.17,305.46 L439.25,306.15 L439.36,306.83 L439.49,307.52 L439.64,308.20 L439.82,308.89 L440.03,309.58 L440.26,310.26 L440.52,310.95 L440.80,311.64 L441.10,312.32 L441.40,313.01 L441.71,313.70 L442.01,314.38 L442.30,315.07 L442.56,315.75 L442.79,316.44 L442.97,317.13 L443.10,317.81 L443.17,318.50 L443.19,319.19 L443.13,319.87 L443.01,320.56 L442.83,321.25 L442.60,321.93 L442.33,322.62 L442.02,323.30 L441.70,323.99 L441.37,324.68 L441.04,325.36 L440.73,326.05 L440.44,326.74 L440.17,327.42 L439.93,328.11 L439.72,328.80 L439.55,329.48 L439.40,330.17 L439.28,330.85 L439.18,331.54 L439.11,332.23 L439.05,332.91 L439.00,333.60 Z" fill="#7a30d8" fill-opacity="0.38"/><path d="M439.11,303.40 L439.20,304.09 L439.30,304.77 L439.44,305.46 L439.61,306.15 L439.83,306.83 L440.08,307.52 L440.39,308.20 L440.75,308.89 L441.16,309.58 L441.63,310.26 L442.15,310.95 L442.71,311.64 L443.30,312.32 L443.91,313.01 L444.53,313.70 L445.14,314.38 L445.71,315.07 L446.23,315.75 L446.69,316.44 L447.05,317.13 L447.31,317.81 L447.46,318.50 L447.48,319.19 L447.38,319.87 L447.14,320.56 L446.78,321.25 L446.31,321.93 L445.77,322.62 L445.15,323.30 L444.51,323.99 L443.85,324.68 L443.19,325.36 L442.57,326.05 L441.98,326.74 L441.45,327.42 L440.97,328.11 L440.56,328.80 L440.20,329.48 L439.91,330.17 L439.67,330.85 L439.47,331.54 L439.32,332.23 L439.20,332.91 L439.11,333.60" stroke="#7a30d8" stroke-width="1.05" fill="none"/>
<path d="M461.36,339.37 V346.58 M459.06,339.37 H463.66 M459.06,346.58 H463.66" stroke="#2a70c8" stroke-opacity="0.8" stroke-width="0.85" fill="none"/><rect x="456.56" y="340.60" width="9.6" height="3.4" fill="#2a70c8" fill-opacity="0.35" stroke="#2a70c8" stroke-opacity="0.95" stroke-width="0.75"/><rect x="460.26" y="341.80" width="2.2" height="2.2" fill="#2a70c8"/><path d="M467.36,334.50 L467.47,334.50 L467.52,334.90 L467.58,335.30 L467.66,335.70 L467.75,336.10 L467.88,336.50 L468.03,336.90 L468.21,337.30 L468.42,337.70 L468.67,338.10 L468.94,338.50 L469.24,338.90 L469.56,339.30 L469.89,339.70 L470.23,340.10 L470.55,340.50 L470.86,340.90 L471.13,341.30 L471.35,341.70 L471.52,342.10 L471.62,342.50 L471.66,342.90 L471.63,343.30 L471.54,343.70 L471.40,344.10 L471.21,344.50 L470.98,344.90 L470.72,345.30 L470.43,345.70 L470.13,346.10 L469.82,346.50 L469.52,346.90 L469.23,347.30 L468.95,347.70 L468.70,348.10 L468.47,348.50 L468.27,348.90 L468.10,349.30 L467.95,349.70 L467.82,350.10 L467.72,350.50 L467.63,350.90 L467.57,351.30 L467.51,351.70 L467.47,352.10 Z" fill="#2a70c8" fill-opacity="0.38"/><path d="M467.58,334.50 L467.68,334.90 L467.80,335.30 L467.95,335.70 L468.15,336.10 L468.40,336.50 L468.70,336.90 L469.06,337.30 L469.49,337.70 L469.98,338.10 L470.52,338.50 L471.12,338.90 L471.76,339.30 L472.43,339.70 L473.10,340.10 L473.75,340.50 L474.35,340.90 L474.89,341.30 L475.34,341.70 L475.68,342.10 L475.89,342.50 L475.96,342.90 L475.90,343.30 L475.73,343.70 L475.44,344.10 L475.06,344.50 L474.60,344.90 L474.07,345.30 L473.50,345.70 L472.89,346.10 L472.28,346.50 L471.68,346.90 L471.10,347.30 L470.55,347.70 L470.04,348.10 L469.59,348.50 L469.18,348.90 L468.83,349.30 L468.53,349.70 L468.28,350.10 L468.07,350.50 L467.91,350.90 L467.77,351.30 L467.67,351.70 L467.58,352.10" stroke="#2a70c8" stroke-width="1.05" fill="none"/>
<path d="M489.83,341.45 V346.98 M487.53,341.45 H492.13 M487.53,346.98 H492.13" stroke="#304058" stroke-opacity="0.8" stroke-width="0.85" fill="none"/><rect x="485.03" y="341.80" width="9.6" height="3.4" fill="#304058" fill-opacity="0.35" stroke="#304058" stroke-opacity="0.95" stroke-width="0.75"/><rect x="488.73" y="343.00" width="2.2" height="2.2" fill="#304058"/><path d="M495.83,337.80 L495.94,337.80 L495.99,338.11 L496.05,338.41 L496.13,338.72 L496.23,339.03 L496.36,339.33 L496.52,339.64 L496.71,339.95 L496.94,340.25 L497.19,340.56 L497.48,340.87 L497.79,341.18 L498.12,341.48 L498.46,341.79 L498.80,342.10 L499.13,342.40 L499.43,342.71 L499.69,343.02 L499.90,343.32 L500.04,343.63 L500.12,343.94 L500.12,344.24 L500.07,344.55 L499.96,344.86 L499.80,345.16 L499.60,345.47 L499.36,345.78 L499.09,346.08 L498.80,346.39 L498.51,346.70 L498.21,347.00 L497.91,347.31 L497.63,347.62 L497.37,347.93 L497.12,348.23 L496.91,348.54 L496.71,348.85 L496.54,349.15 L496.40,349.46 L496.28,349.77 L496.18,350.07 L496.10,350.38 L496.03,350.69 L495.98,350.99 L495.94,351.30 Z" fill="#304058" fill-opacity="0.38"/><path d="M496.05,337.80 L496.15,338.11 L496.27,338.41 L496.43,338.72 L496.64,339.03 L496.90,339.33 L497.22,339.64 L497.60,339.95 L498.04,340.25 L498.55,340.56 L499.13,340.87 L499.75,341.18 L500.41,341.48 L501.10,341.79 L501.78,342.10 L502.43,342.40 L503.03,342.71 L503.55,343.02 L503.97,343.32 L504.26,343.63 L504.41,343.94 L504.42,344.24 L504.31,344.55 L504.09,344.86 L503.77,345.16 L503.37,345.47 L502.89,345.78 L502.35,346.08 L501.78,346.39 L501.18,346.70 L500.58,347.00 L499.99,347.31 L499.43,347.62 L498.90,347.93 L498.42,348.23 L497.98,348.54 L497.60,348.85 L497.26,349.15 L496.97,349.46 L496.73,349.77 L496.53,350.07 L496.37,350.38 L496.24,350.69 L496.13,350.99 L496.05,351.30" stroke="#304058" stroke-width="1.05" fill="none"/>
<path d="M518.30,313.10 V325.14 M516.00,313.10 H520.60 M516.00,325.14 H520.60" stroke="#702028" stroke-opacity="0.8" stroke-width="0.85" fill="none"/><rect x="513.50" y="316.60" width="9.6" height="3.4" fill="#702028" fill-opacity="0.35" stroke="#702028" stroke-opacity="0.95" stroke-width="0.75"/><rect x="517.20" y="317.80" width="2.2" height="2.2" fill="#702028"/><path d="M524.30,305.10 L524.41,305.10 L524.46,305.77 L524.52,306.44 L524.60,307.10 L524.70,307.77 L524.83,308.44 L524.99,309.11 L525.17,309.78 L525.39,310.45 L525.65,311.11 L525.93,311.78 L526.24,312.45 L526.57,313.12 L526.91,313.79 L527.25,314.45 L527.57,315.12 L527.87,315.79 L528.14,316.46 L528.35,317.13 L528.50,317.80 L528.58,318.46 L528.60,319.13 L528.55,319.80 L528.44,320.47 L528.29,321.14 L528.09,321.80 L527.85,322.47 L527.58,323.14 L527.30,323.81 L527.00,324.48 L526.70,325.15 L526.40,325.81 L526.12,326.48 L525.85,327.15 L525.61,327.82 L525.39,328.49 L525.19,329.15 L525.02,329.82 L524.87,330.49 L524.75,331.16 L524.65,331.83 L524.57,332.50 L524.50,333.16 L524.45,333.83 L524.41,334.50 Z" fill="#702028" fill-opacity="0.38"/><path d="M524.52,305.10 L524.62,305.77 L524.74,306.44 L524.90,307.10 L525.10,307.77 L525.36,308.44 L525.67,309.11 L526.05,309.78 L526.49,310.45 L526.99,311.11 L527.56,311.78 L528.18,312.45 L528.84,313.12 L529.51,313.79 L530.19,314.45 L530.84,315.12 L531.45,315.79 L531.97,316.46 L532.40,317.13 L532.70,317.80 L532.87,318.46 L532.89,319.13 L532.80,319.80 L532.59,320.47 L532.28,321.14 L531.88,321.80 L531.40,322.47 L530.87,323.14 L530.29,323.81 L529.70,324.48 L529.09,325.15 L528.50,325.81 L527.94,326.48 L527.40,327.15 L526.91,327.82 L526.47,328.49 L526.08,329.15 L525.74,329.82 L525.45,330.49 L525.21,331.16 L525.00,331.83 L524.84,332.50 L524.71,333.16 L524.60,333.83 L524.52,334.50" stroke="#702028" stroke-width="1.05" fill="none"/>
<path d="M546.77,312.28 V323.06 M544.47,312.28 H549.07 M544.47,323.06 H549.07" stroke="#7a5a3a" stroke-opacity="0.8" stroke-width="0.85" fill="none"/><rect x="541.97" y="315.40" width="9.6" height="3.4" fill="#7a5a3a" fill-opacity="0.35" stroke="#7a5a3a" stroke-opacity="0.95" stroke-width="0.75"/><rect x="545.67" y="316.60" width="2.2" height="2.2" fill="#7a5a3a"/><path d="M552.77,304.80 L552.88,304.80 L552.93,305.40 L552.98,306.00 L553.06,306.59 L553.15,307.19 L553.27,307.79 L553.41,308.39 L553.58,308.98 L553.79,309.58 L554.02,310.18 L554.28,310.78 L554.56,311.38 L554.87,311.97 L555.19,312.57 L555.51,313.17 L555.83,313.77 L556.14,314.36 L556.42,314.96 L556.66,315.56 L556.85,316.16 L556.99,316.75 L557.06,317.35 L557.06,317.95 L557.01,318.55 L556.89,319.15 L556.72,319.74 L556.50,320.34 L556.25,320.94 L555.96,321.54 L555.65,322.13 L555.34,322.73 L555.03,323.33 L554.73,323.93 L554.44,324.53 L554.18,325.12 L553.94,325.72 L553.72,326.32 L553.54,326.92 L553.38,327.51 L553.25,328.11 L553.14,328.71 L553.05,329.31 L552.98,329.90 L552.92,330.50 L552.88,331.10 Z" fill="#7a5a3a" fill-opacity="0.38"/><path d="M552.99,304.80 L553.08,305.40 L553.20,306.00 L553.35,306.59 L553.54,307.19 L553.77,307.79 L554.06,308.39 L554.40,308.98 L554.80,309.58 L555.26,310.18 L555.78,310.78 L556.35,311.38 L556.96,311.97 L557.60,312.57 L558.25,313.17 L558.90,313.77 L559.51,314.36 L560.07,314.96 L560.55,315.56 L560.93,316.16 L561.20,316.75 L561.35,317.35 L561.36,317.95 L561.25,318.55 L561.01,319.15 L560.67,319.74 L560.23,320.34 L559.72,320.94 L559.15,321.54 L558.54,322.13 L557.91,322.73 L557.29,323.33 L556.68,323.93 L556.11,324.53 L555.58,325.12 L555.10,325.72 L554.67,326.32 L554.30,326.92 L553.99,327.51 L553.72,328.11 L553.50,328.71 L553.33,329.31 L553.19,329.90 L553.08,330.50 L552.99,331.10" stroke="#7a5a3a" stroke-width="1.05" fill="none"/>
<path d="M575.24,330.78 V340.76 M572.94,330.78 H577.54 M572.94,340.76 H577.54" stroke="#8a5820" stroke-opacity="0.8" stroke-width="0.85" fill="none"/><rect x="570.44" y="333.10" width="9.6" height="3.4" fill="#8a5820" fill-opacity="0.35" stroke="#8a5820" stroke-opacity="0.95" stroke-width="0.75"/><rect x="574.14" y="334.30" width="2.2" height="2.2" fill="#8a5820"/><path d="M581.24,324.40 L581.35,324.40 L581.40,324.95 L581.47,325.51 L581.55,326.06 L581.66,326.62 L581.80,327.17 L581.97,327.73 L582.17,328.28 L582.41,328.84 L582.69,329.39 L582.99,329.95 L583.33,330.50 L583.67,331.05 L584.03,331.61 L584.38,332.16 L584.70,332.72 L584.99,333.27 L585.23,333.83 L585.41,334.38 L585.51,334.94 L585.54,335.49 L585.50,336.05 L585.42,336.60 L585.28,337.15 L585.10,337.71 L584.88,338.26 L584.63,338.82 L584.36,339.37 L584.08,339.93 L583.79,340.48 L583.50,341.04 L583.22,341.59 L582.95,342.15 L582.70,342.70 L582.47,343.25 L582.26,343.81 L582.08,344.36 L581.92,344.92 L581.79,345.47 L581.67,346.03 L581.58,346.58 L581.50,347.14 L581.44,347.69 L581.39,348.25 L581.35,348.80 Z" fill="#8a5820" fill-opacity="0.38"/><path d="M581.46,324.40 L581.56,324.95 L581.69,325.51 L581.86,326.06 L582.08,326.62 L582.36,327.17 L582.70,327.73 L583.11,328.28 L583.59,328.84 L584.14,329.39 L584.75,329.95 L585.41,330.50 L586.11,331.05 L586.82,331.61 L587.51,332.16 L588.16,332.72 L588.74,333.27 L589.22,333.83 L589.58,334.38 L589.78,334.94 L589.84,335.49 L589.77,336.05 L589.59,336.60 L589.32,337.15 L588.96,337.71 L588.52,338.26 L588.02,338.82 L587.48,339.37 L586.91,339.93 L586.33,340.48 L585.75,341.04 L585.19,341.59 L584.65,342.15 L584.16,342.70 L583.70,343.25 L583.29,343.81 L582.92,344.36 L582.61,344.92 L582.34,345.47 L582.11,346.03 L581.92,346.58 L581.77,347.14 L581.64,347.69 L581.54,348.25 L581.46,348.80" stroke="#8a5820" stroke-width="1.05" fill="none"/>
<path d="M603.71,330.80 V338.84 M601.41,330.80 H606.01 M601.41,338.84 H606.01" stroke="#28a028" stroke-opacity="0.8" stroke-width="0.85" fill="none"/><rect x="598.91" y="332.70" width="9.6" height="3.4" fill="#28a028" fill-opacity="0.35" stroke="#28a028" stroke-opacity="0.95" stroke-width="0.75"/><rect x="602.61" y="333.90" width="2.2" height="2.2" fill="#28a028"/><path d="M609.71,325.00 L609.82,325.00 L609.86,325.45 L609.92,325.89 L609.99,326.34 L610.08,326.78 L610.19,327.23 L610.32,327.67 L610.48,328.12 L610.66,328.56 L610.87,329.01 L611.11,329.45 L611.38,329.90 L611.66,330.35 L611.96,330.79 L612.28,331.24 L612.59,331.68 L612.89,332.13 L613.18,332.57 L613.44,333.02 L613.66,333.46 L613.83,333.91 L613.95,334.35 L614.00,334.80 L614.00,335.25 L613.93,335.69 L613.80,336.14 L613.60,336.58 L613.36,337.03 L613.09,337.47 L612.78,337.92 L612.46,338.36 L612.13,338.81 L611.81,339.25 L611.50,339.70 L611.22,340.15 L610.96,340.59 L610.73,341.04 L610.53,341.48 L610.35,341.93 L610.21,342.37 L610.09,342.82 L610.00,343.26 L609.92,343.71 L609.87,344.15 L609.82,344.60 Z" fill="#28a028" fill-opacity="0.38"/><path d="M609.93,325.00 L610.02,325.45 L610.13,325.89 L610.27,326.34 L610.44,326.78 L610.66,327.23 L610.93,327.67 L611.24,328.12 L611.61,328.56 L612.03,329.01 L612.51,329.45 L613.04,329.90 L613.61,330.35 L614.22,330.79 L614.84,331.24 L615.47,331.68 L616.08,332.13 L616.65,332.57 L617.16,333.02 L617.60,333.46 L617.94,333.91 L618.18,334.35 L618.30,334.80 L618.29,335.25 L618.15,335.69 L617.88,336.14 L617.50,336.58 L617.02,337.03 L616.46,337.47 L615.85,337.92 L615.21,338.36 L614.55,338.81 L613.91,339.25 L613.30,339.70 L612.73,340.15 L612.21,340.59 L611.75,341.04 L611.34,341.48 L611.00,341.93 L610.71,342.37 L610.48,342.82 L610.29,343.26 L610.14,343.71 L610.02,344.15 L609.93,344.60" stroke="#28a028" stroke-width="1.05" fill="none"/>
<path d="M632.18,299.57 V313.66 M629.88,299.57 H634.48 M629.88,313.66 H634.48" stroke="#b0a818" stroke-opacity="0.8" stroke-width="0.85" fill="none"/><rect x="627.38" y="304.20" width="9.6" height="3.4" fill="#b0a818" fill-opacity="0.35" stroke="#b0a818" stroke-opacity="0.95" stroke-width="0.75"/><rect x="631.08" y="305.40" width="2.2" height="2.2" fill="#b0a818"/><path d="M638.18,290.00 L638.29,290.00 L638.34,290.78 L638.40,291.56 L638.47,292.35 L638.57,293.13 L638.69,293.91 L638.84,294.69 L639.02,295.47 L639.23,296.25 L639.48,297.04 L639.75,297.82 L640.04,298.60 L640.36,299.38 L640.69,300.16 L641.02,300.95 L641.35,301.73 L641.65,302.51 L641.93,303.29 L642.15,304.07 L642.33,304.85 L642.44,305.64 L642.48,306.42 L642.46,307.20 L642.37,307.98 L642.24,308.76 L642.05,309.55 L641.82,310.33 L641.56,311.11 L641.27,311.89 L640.97,312.67 L640.66,313.45 L640.36,314.24 L640.06,315.02 L639.79,315.80 L639.53,316.58 L639.30,317.36 L639.10,318.15 L638.92,318.93 L638.77,319.71 L638.64,320.49 L638.54,321.27 L638.45,322.05 L638.39,322.84 L638.33,323.62 L638.29,324.40 Z" fill="#b0a818" fill-opacity="0.38"/><path d="M638.40,290.00 L638.49,290.78 L638.61,291.56 L638.77,292.35 L638.96,293.13 L639.21,293.91 L639.51,294.69 L639.87,295.47 L640.29,296.25 L640.77,297.04 L641.31,297.82 L641.91,298.60 L642.54,299.38 L643.20,300.16 L643.87,300.95 L644.52,301.73 L645.13,302.51 L645.67,303.29 L646.13,304.07 L646.47,304.85 L646.69,305.64 L646.78,306.42 L646.73,307.20 L646.57,307.98 L646.29,308.76 L645.92,309.55 L645.46,310.33 L644.93,311.11 L644.36,311.89 L643.76,312.67 L643.14,313.45 L642.53,314.24 L641.95,315.02 L641.40,315.80 L640.89,316.58 L640.43,317.36 L640.02,318.15 L639.66,318.93 L639.36,319.71 L639.11,320.49 L638.90,321.27 L638.73,322.05 L638.59,322.84 L638.49,323.62 L638.40,324.40" stroke="#b0a818" stroke-width="1.05" fill="none"/>
<path d="M660.65,297.91 V311.32 M658.35,297.91 H662.95 M658.35,311.32 H662.95" stroke="#333333" stroke-opacity="0.8" stroke-width="0.85" fill="none"/><rect x="655.85" y="302.50" width="9.6" height="3.4" fill="#333333" fill-opacity="0.35" stroke="#333333" stroke-opacity="0.95" stroke-width="0.75"/><rect x="659.55" y="303.70" width="2.2" height="2.2" fill="#333333"/><path d="M666.65,288.40 L666.76,288.40 L666.81,289.14 L666.86,289.89 L666.93,290.63 L667.02,291.37 L667.14,292.12 L667.27,292.86 L667.44,293.60 L667.63,294.35 L667.85,295.09 L668.10,295.83 L668.37,296.58 L668.66,297.32 L668.97,298.06 L669.29,298.80 L669.61,299.55 L669.91,300.29 L670.20,301.03 L670.45,301.78 L670.66,302.52 L670.81,303.26 L670.91,304.01 L670.95,304.75 L670.92,305.49 L670.83,306.24 L670.68,306.98 L670.47,307.72 L670.23,308.47 L669.94,309.21 L669.64,309.95 L669.32,310.70 L669.00,311.44 L668.69,312.18 L668.39,312.93 L668.11,313.67 L667.86,314.41 L667.64,315.15 L667.44,315.90 L667.28,316.64 L667.14,317.38 L667.03,318.13 L666.93,318.87 L666.86,319.61 L666.81,320.36 L666.76,321.10 Z" fill="#333333" fill-opacity="0.38"/><path d="M666.87,288.40 L666.96,289.14 L667.07,289.89 L667.22,290.63 L667.40,291.37 L667.62,292.12 L667.90,292.86 L668.22,293.60 L668.61,294.35 L669.05,295.09 L669.54,295.83 L670.09,296.58 L670.68,297.32 L671.30,298.06 L671.93,298.80 L672.57,299.55 L673.18,300.29 L673.75,301.03 L674.25,301.78 L674.67,302.52 L674.98,303.26 L675.18,304.01 L675.25,304.75 L675.19,305.49 L675.01,306.24 L674.71,306.98 L674.30,307.72 L673.80,308.47 L673.24,309.21 L672.62,309.95 L671.99,310.70 L671.35,311.44 L670.72,312.18 L670.13,312.93 L669.57,313.67 L669.07,314.41 L668.63,315.15 L668.24,315.90 L667.91,316.64 L667.63,317.38 L667.40,318.13 L667.22,318.87 L667.07,319.61 L666.96,320.36 L666.87,321.10" stroke="#333333" stroke-width="1.05" fill="none"/>
<path d="M233.60,350.10 L262.07,350.10 L290.54,329.90 L319.01,341.20 L347.48,341.20 L375.95,329.40 L404.42,319.00 L432.89,319.00 L461.36,342.90 L489.83,344.10 L518.30,318.90 L546.77,317.70 L575.24,335.40 L603.71,335.00 L632.18,306.50 L660.65,304.80" stroke="#2a2a2a" stroke-width="0.8" fill="none"/>
<circle cx="549.1" cy="219.6" r="18.5" fill="none" stroke="#d6a21c" stroke-width="1.5" stroke-dasharray="4.2,2.8"/>
<circle cx="603.4" cy="221.1" r="18.6" fill="none" stroke="#d6a21c" stroke-width="1.5" stroke-dasharray="4.2,2.8"/>
</svg></body></html>
